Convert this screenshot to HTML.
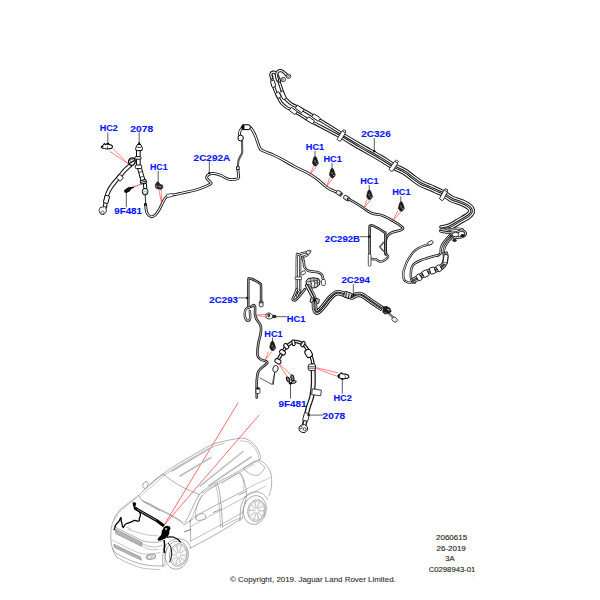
<!DOCTYPE html>
<html><head><meta charset="utf-8"><style>
html,body{margin:0;padding:0;background:#fff;overflow:hidden;width:600px;height:600px;}
svg{display:block;}
text{font-family:"Liberation Sans",sans-serif;}
</style></head><body>
<svg width="600" height="600" viewBox="0 0 600 600">
<rect width="600" height="600" fill="#fff"/>
<text x="99.70" y="131.40" textLength="18.20" lengthAdjust="spacingAndGlyphs" font-size="9.70" font-weight="bold" fill="#0a14ff" stroke="#0a14ff" stroke-width="0.12">HC2</text>
<path d="M107.80,132.80 L107.80,144.00" stroke="#333" stroke-width="0.80" fill="none" stroke-linejoin="round" stroke-linecap="round"/>
<path d="M101.2,147 L103.2,145 L104.4,143.6 L105.6,144.8 L107,143.6 L108.4,143.4 L109.4,144.6 L111.6,145.3 L112.6,146.6 L111.8,148.2 L108,149 L104,148.6 L101.8,147.9 Z" fill="#fff" stroke="#000" stroke-width="1.05"/>
<ellipse cx="102.3" cy="146.6" rx="1.2" ry="0.9" fill="#000"/>
<ellipse cx="107.9" cy="144.3" rx="0.9" ry="0.9" fill="#000"/>
<path d="M107.6,146.4 L107.4,148.8" stroke="#000" stroke-width="0.7"/>
<path d="M113.50,149.00 L128.50,164.00" stroke="#ff3030" stroke-width="0.60" fill="none" stroke-linejoin="round" stroke-linecap="round"/>
<path d="M110.00,151.50 L128.50,164.00" stroke="#ff3030" stroke-width="0.60" fill="none" stroke-linejoin="round" stroke-linecap="round"/>
<text x="130.30" y="131.50" textLength="22.80" lengthAdjust="spacingAndGlyphs" font-size="9.70" font-weight="bold" fill="#0a14ff" stroke="#0a14ff" stroke-width="0.12">2078</text>
<path d="M139.20,132.80 L139.20,143.00" stroke="#333" stroke-width="0.80" fill="none" stroke-linejoin="round" stroke-linecap="round"/>
<circle cx="139.20" cy="143.30" r="1.15" fill="#000"/>
<path d="M130.50,165.00 C129.50,165.92 126.25,168.67 124.50,170.50 C122.75,172.33 121.62,174.08 120.00,176.00 C118.38,177.92 116.38,180.03 114.80,182.00 C113.22,183.97 111.67,185.97 110.50,187.80 C109.33,189.63 108.50,191.30 107.80,193.00 C107.10,194.70 106.68,196.33 106.30,198.00 C105.92,199.67 105.72,201.50 105.50,203.00 C105.28,204.50 105.08,206.33 105.00,207.00" stroke="#1a1a1a" stroke-width="4.43" fill="none" stroke-linejoin="round" stroke-linecap="round"/>
<path d="M130.50,165.00 C129.50,165.92 126.25,168.67 124.50,170.50 C122.75,172.33 121.62,174.08 120.00,176.00 C118.38,177.92 116.38,180.03 114.80,182.00 C113.22,183.97 111.67,185.97 110.50,187.80 C109.33,189.63 108.50,191.30 107.80,193.00 C107.10,194.70 106.68,196.33 106.30,198.00 C105.92,199.67 105.72,201.50 105.50,203.00 C105.28,204.50 105.08,206.33 105.00,207.00" stroke="#fff" stroke-width="2.27" fill="none" stroke-linejoin="round" stroke-linecap="round"/>
<rect x="117.3" y="175.2" width="5.3" height="5" rx="1" transform="rotate(45 119.9 177.7)" fill="#fff" stroke="#000" stroke-width="0.9"/>
<rect x="104.2" y="195.6" width="4.6" height="7.6" rx="0.8" transform="rotate(15 106.5 199.4)" fill="#fff" stroke="#000" stroke-width="0.9"/>
<ellipse cx="131.9" cy="161.6" rx="3.3" ry="3.7" transform="rotate(20 131.9 161.6)" fill="#fff" stroke="#000" stroke-width="1.3"/>
<path d="M129.2,163.5 L134.8,160.5" stroke="#000" stroke-width="1.1"/>
<ellipse cx="131.6" cy="160.4" rx="1.6" ry="1.1" fill="#fff" stroke="#222" stroke-width="0.7"/>
<path d="M100,207.5 L105.5,206.5 L106.5,211 L104,214.5 L100.5,214 L99,210.5 Z" fill="#fff" stroke="#111" stroke-width="0.8"/>
<circle cx="102.5" cy="212.5" r="1.6" fill="#fff" stroke="#111" stroke-width="0.6"/>
<path d="M136.5,150 L140.2,150 L140.2,166 L136.5,166 Z" fill="#fff" stroke="#000" stroke-width="0.95"/>
<path d="M137.6,168.5 L141.4,167.6 L144.8,179.6 L141,180.8 Z" fill="#fff" stroke="#000" stroke-width="0.95"/>
<path d="M138.6,172.5 L142.6,171.4 M139.6,177.5 L143.6,176.4" stroke="#000" stroke-width="0.7"/>
<path d="M139,143.4 L141.2,145.2 L142.4,148.2 L142,150.6 L136,150.6 L135.7,148.2 L136.9,145.2 Z" fill="#fff" stroke="#000" stroke-width="0.95"/>
<path d="M137.2,147.3 L141,147.3" stroke="#000" stroke-width="0.8"/>
<path d="M138.2,143.5 L139.8,143.5 L140.6,145 L137.4,145 Z" fill="#000"/>
<rect x="134.8" y="156.6" width="6.3" height="2.6" rx="1" fill="#fff" stroke="#000" stroke-width="0.95"/>
<rect x="135.3" y="165.0" width="6.4" height="3.6" rx="1.2" fill="#fff" stroke="#000" stroke-width="0.95"/>
<path d="M140.2,180.8 L145.8,179.4 L146.6,182.6 L141,184.2 Z" fill="#fff" stroke="#000" stroke-width="1.0"/>
<path d="M140.6,182.5 L146.2,181" stroke="#000" stroke-width="0.8"/>
<path d="M143.4,184 L146.4,183.4 L146.8,188.4 L143.8,188.8 Z" fill="#fff" stroke="#000" stroke-width="0.95"/>
<ellipse cx="145.1" cy="191.7" rx="2.9" ry="3.3" fill="#fff" stroke="#000" stroke-width="0.95"/>
<ellipse cx="145.1" cy="192.5" rx="1.6" ry="1.6" fill="none" stroke="#555" stroke-width="0.5"/>
<path d="M145.20,195.00 L145.60,203.00" stroke="#111" stroke-width="0.90" fill="none" stroke-linejoin="round" stroke-linecap="round"/>
<path d="M144.4,203 L146.6,203 L147.2,206 L143.8,206 Z" fill="#111"/>
<text x="150.00" y="169.90" textLength="17.50" lengthAdjust="spacingAndGlyphs" font-size="9.70" font-weight="bold" fill="#0a14ff" stroke="#0a14ff" stroke-width="0.12">HC1</text>
<path d="M158.20,171.20 L158.20,182.50" stroke="#333" stroke-width="0.80" fill="none" stroke-linejoin="round" stroke-linecap="round"/>
<path d="M157.3,181.8 L158.8,182.5 L160.2,184.3 L162.6,185.3 L162.9,187.5 L161.3,189.4 L159,189 L156.6,188.6 L155.5,187.4 L155.3,185 L156.2,183.2 Z" fill="#2a2a2a" stroke="#000" stroke-width="0.55"/>
<path d="M158.6,186.2 L161.4,187.1" stroke="#999" stroke-width="1.1"/>
<path d="M156.3,185.6 L157,187.6" stroke="#ddd" stroke-width="0.6"/>
<path d="M158.70,189.00 L161.40,202.50" stroke="#ff3030" stroke-width="0.60" fill="none" stroke-linejoin="round" stroke-linecap="round"/>
<path d="M161.20,189.00 L161.60,202.50" stroke="#ff3030" stroke-width="0.60" fill="none" stroke-linejoin="round" stroke-linecap="round"/>
<text x="114.20" y="214.40" textLength="27.80" lengthAdjust="spacingAndGlyphs" font-size="9.70" font-weight="bold" fill="#0a14ff" stroke="#0a14ff" stroke-width="0.12">9F481</text>
<path d="M126.30,206.80 L126.30,192.00" stroke="#333" stroke-width="0.80" fill="none" stroke-linejoin="round" stroke-linecap="round"/>
<path d="M124,190.2 L128.3,187.3 L131,186.9 L133.8,186.4 L134.1,187.7 L131.2,188.9 L129.8,191.2 L126.6,193 L124.6,192.4 Z" fill="#000"/>
<path d="M126,190.8 L129.5,188.6" stroke="#555" stroke-width="0.5"/>
<path d="M133.8,185.9 L141.3,183.7 L141.5,184.5 L134.2,187.3 Z" fill="#ff5a5a"/>
<path d="M145.70,206.00 C145.78,206.67 145.90,208.67 146.20,210.00 C146.50,211.33 146.62,212.87 147.50,214.00 C148.38,215.13 150.17,216.67 151.50,216.80 C152.83,216.93 154.25,215.93 155.50,214.80 C156.75,213.67 157.92,211.80 159.00,210.00 C160.08,208.20 161.00,205.92 162.00,204.00 C163.00,202.08 163.92,199.87 165.00,198.50 C166.08,197.13 166.83,196.45 168.50,195.80 C170.17,195.15 172.42,195.13 175.00,194.60 C177.58,194.07 180.50,193.37 184.00,192.60 C187.50,191.83 192.25,191.10 196.00,190.00 C199.75,188.90 203.97,187.12 206.50,186.00 C209.03,184.88 210.70,184.08 211.20,183.30 C211.70,182.52 210.23,182.13 209.50,181.30 C208.77,180.47 207.13,179.27 206.80,178.30 C206.47,177.33 206.88,176.25 207.50,175.50 C208.12,174.75 209.33,174.12 210.50,173.80 C211.67,173.48 212.63,173.27 214.50,173.60 C216.37,173.93 219.40,174.87 221.70,175.80 C224.00,176.73 225.92,178.63 228.30,179.20 C230.68,179.77 234.28,179.47 236.00,179.20 C237.72,178.93 238.23,178.72 238.60,177.60 C238.97,176.48 238.33,174.05 238.20,172.50 C238.07,170.95 237.87,169.00 237.80,168.30" stroke="#1a1a1a" stroke-width="2.81" fill="none" stroke-linejoin="round" stroke-linecap="round"/>
<path d="M145.70,206.00 C145.78,206.67 145.90,208.67 146.20,210.00 C146.50,211.33 146.62,212.87 147.50,214.00 C148.38,215.13 150.17,216.67 151.50,216.80 C152.83,216.93 154.25,215.93 155.50,214.80 C156.75,213.67 157.92,211.80 159.00,210.00 C160.08,208.20 161.00,205.92 162.00,204.00 C163.00,202.08 163.92,199.87 165.00,198.50 C166.08,197.13 166.83,196.45 168.50,195.80 C170.17,195.15 172.42,195.13 175.00,194.60 C177.58,194.07 180.50,193.37 184.00,192.60 C187.50,191.83 192.25,191.10 196.00,190.00 C199.75,188.90 203.97,187.12 206.50,186.00 C209.03,184.88 210.70,184.08 211.20,183.30 C211.70,182.52 210.23,182.13 209.50,181.30 C208.77,180.47 207.13,179.27 206.80,178.30 C206.47,177.33 206.88,176.25 207.50,175.50 C208.12,174.75 209.33,174.12 210.50,173.80 C211.67,173.48 212.63,173.27 214.50,173.60 C216.37,173.93 219.40,174.87 221.70,175.80 C224.00,176.73 225.92,178.63 228.30,179.20 C230.68,179.77 234.28,179.47 236.00,179.20 C237.72,178.93 238.23,178.72 238.60,177.60 C238.97,176.48 238.33,174.05 238.20,172.50 C238.07,170.95 237.87,169.00 237.80,168.30" stroke="#fff" stroke-width="1.01" fill="none" stroke-linejoin="round" stroke-linecap="round"/>
<rect x="166.5" y="193.9" width="6.6" height="3.1" rx="0.8" transform="rotate(-10 169.8 195.4)" fill="#fff" stroke="#222" stroke-width="0.7"/>
<path d="M237.80,168.30 C237.90,167.08 237.95,163.05 238.40,161.00 C238.85,158.95 239.87,157.42 240.50,156.00 C241.13,154.58 241.93,154.17 242.20,152.50 C242.47,150.83 242.13,148.00 242.10,146.00 C242.07,144.00 242.02,141.42 242.00,140.50" stroke="#444" stroke-width="2.00" fill="none" stroke-linejoin="round" stroke-linecap="round"/>
<path d="M237.80,168.30 C237.90,167.08 237.95,163.05 238.40,161.00 C238.85,158.95 239.87,157.42 240.50,156.00 C241.13,154.58 241.93,154.17 242.20,152.50 C242.47,150.83 242.13,148.00 242.10,146.00 C242.07,144.00 242.02,141.42 242.00,140.50" stroke="#888" stroke-width="0.70" fill="none" stroke-linejoin="round" stroke-linecap="round"/>
<rect x="236.6" y="166.8" width="2.6" height="2.6" fill="#fff" stroke="#000" stroke-width="0.8"/>
<path d="M240.60,137.60 C240.40,136.88 239.25,134.80 239.40,133.30 C239.55,131.80 240.57,129.75 241.50,128.60 C242.43,127.45 243.87,126.77 245.00,126.40 C246.13,126.03 247.23,126.03 248.30,126.40 C249.37,126.77 250.28,127.17 251.40,128.60 C252.52,130.03 253.63,131.83 255.00,135.00 C256.37,138.17 258.35,145.02 259.60,147.60 C260.85,150.18 260.22,149.27 262.50,150.50 C264.78,151.73 270.38,153.70 273.30,155.00 C276.22,156.30 276.38,156.35 280.00,158.30 C283.62,160.25 290.00,164.05 295.00,166.70 C300.00,169.35 306.12,171.98 310.00,174.20 C313.88,176.42 315.80,178.07 318.30,180.00 C320.80,181.93 323.05,184.27 325.00,185.80 C326.95,187.33 328.17,188.20 330.00,189.20 C331.83,190.20 335.00,191.37 336.00,191.80" stroke="#1a1a1a" stroke-width="2.92" fill="none" stroke-linejoin="round" stroke-linecap="round"/>
<path d="M240.60,137.60 C240.40,136.88 239.25,134.80 239.40,133.30 C239.55,131.80 240.57,129.75 241.50,128.60 C242.43,127.45 243.87,126.77 245.00,126.40 C246.13,126.03 247.23,126.03 248.30,126.40 C249.37,126.77 250.28,127.17 251.40,128.60 C252.52,130.03 253.63,131.83 255.00,135.00 C256.37,138.17 258.35,145.02 259.60,147.60 C260.85,150.18 260.22,149.27 262.50,150.50 C264.78,151.73 270.38,153.70 273.30,155.00 C276.22,156.30 276.38,156.35 280.00,158.30 C283.62,160.25 290.00,164.05 295.00,166.70 C300.00,169.35 306.12,171.98 310.00,174.20 C313.88,176.42 315.80,178.07 318.30,180.00 C320.80,181.93 323.05,184.27 325.00,185.80 C326.95,187.33 328.17,188.20 330.00,189.20 C331.83,190.20 335.00,191.37 336.00,191.80" stroke="#fff" stroke-width="1.12" fill="none" stroke-linejoin="round" stroke-linecap="round"/>
<ellipse cx="240.6" cy="138" rx="2.7" ry="2.9" fill="#fff" stroke="#000" stroke-width="1.0"/>
<path d="M242.6,124.8 L249.2,124.8 L250.6,127 L249.2,129.6 L242.6,129.6 L241.4,127.2 Z" fill="#fff" stroke="#000" stroke-width="1.0"/>
<path d="M242.6,124.8 L244.4,124.8 L244.4,129.6 L242.6,129.6 L241.4,127.2 Z" fill="#000"/>
<g transform="rotate(30.0 339.30 193.30)"><rect x="336.10" y="191.30" width="6.40" height="4.00" rx="1.2" fill="#d0d0d0" stroke="#222" stroke-width="0.85"/><rect x="340.30" y="191.70" width="1.6" height="3.20" fill="#333"/><rect x="336.90" y="192.40" width="2.40" height="1.0" fill="#fff"/></g>
<g transform="rotate(32.0 346.60 198.10)"><rect x="343.40" y="196.10" width="6.40" height="4.00" rx="1.2" fill="#d0d0d0" stroke="#222" stroke-width="0.85"/><rect x="347.60" y="196.50" width="1.6" height="3.20" fill="#333"/><rect x="344.20" y="197.20" width="2.40" height="1.0" fill="#fff"/></g>
<path d="M348.50,199.00 C349.30,199.45 350.83,200.23 353.30,201.70 C355.77,203.17 360.23,205.87 363.30,207.80 C366.37,209.73 368.63,212.07 371.70,213.30 C374.77,214.53 378.65,214.22 381.70,215.20 C384.75,216.18 387.23,217.70 390.00,219.20 C392.77,220.70 396.17,222.77 398.30,224.20 C400.43,225.63 402.35,226.83 402.80,227.80 C403.25,228.77 402.80,229.20 401.00,230.00 C399.20,230.80 394.30,231.57 392.00,232.60 C389.70,233.63 388.27,234.72 387.20,236.20 C386.13,237.68 385.87,239.20 385.60,241.50 C385.33,243.80 385.48,247.83 385.60,250.00 C385.72,252.17 386.18,253.75 386.30,254.50" stroke="#1a1a1a" stroke-width="2.70" fill="none" stroke-linejoin="round" stroke-linecap="round"/>
<path d="M348.50,199.00 C349.30,199.45 350.83,200.23 353.30,201.70 C355.77,203.17 360.23,205.87 363.30,207.80 C366.37,209.73 368.63,212.07 371.70,213.30 C374.77,214.53 378.65,214.22 381.70,215.20 C384.75,216.18 387.23,217.70 390.00,219.20 C392.77,220.70 396.17,222.77 398.30,224.20 C400.43,225.63 402.35,226.83 402.80,227.80 C403.25,228.77 402.80,229.20 401.00,230.00 C399.20,230.80 394.30,231.57 392.00,232.60 C389.70,233.63 388.27,234.72 387.20,236.20 C386.13,237.68 385.87,239.20 385.60,241.50 C385.33,243.80 385.48,247.83 385.60,250.00 C385.72,252.17 386.18,253.75 386.30,254.50" stroke="#fff" stroke-width="0.90" fill="none" stroke-linejoin="round" stroke-linecap="round"/>
<text x="193.60" y="160.60" textLength="36.60" lengthAdjust="spacingAndGlyphs" font-size="9.70" font-weight="bold" fill="#0a14ff" stroke="#0a14ff" stroke-width="0.12">2C292A</text>
<path d="M209.30,161.50 L209.30,173.00" stroke="#333" stroke-width="0.80" fill="none" stroke-linejoin="round" stroke-linecap="round"/>
<circle cx="209.30" cy="173.20" r="1.15" fill="#000"/>
<text x="305.80" y="149.90" textLength="18.40" lengthAdjust="spacingAndGlyphs" font-size="9.70" font-weight="bold" fill="#0a14ff" stroke="#0a14ff" stroke-width="0.12">HC1</text>
<path d="M315.00,151.30 L315.00,157.50" stroke="#333" stroke-width="0.80" fill="none" stroke-linejoin="round" stroke-linecap="round"/>
<path d="M315.00,156.40 L316.30,157.20 L317.00,158.90 L317.70,160.90 L318.40,163.20 L317.60,164.60 L316.00,166.10 L314.00,165.70 L312.40,163.00 L312.80,160.90 L313.70,157.60 Z" fill="#1c1c1c" stroke="#000" stroke-width="0.5"/>
<ellipse cx="315.10" cy="161.40" rx="0.9" ry="1.3" fill="#666"/>
<path d="M316.10,163.80 L317.60,163.40" stroke="#e8e8e8" stroke-width="0.7"/>
<path d="M313.50,166.50 L310.00,174.30" stroke="#ff3030" stroke-width="0.60" fill="none" stroke-linejoin="round" stroke-linecap="round"/>
<path d="M316.70,166.50 L310.00,174.30" stroke="#ff3030" stroke-width="0.60" fill="none" stroke-linejoin="round" stroke-linecap="round"/>
<text x="323.40" y="161.80" textLength="18.40" lengthAdjust="spacingAndGlyphs" font-size="9.70" font-weight="bold" fill="#0a14ff" stroke="#0a14ff" stroke-width="0.12">HC1</text>
<path d="M332.00,163.30 L332.00,169.20" stroke="#333" stroke-width="0.80" fill="none" stroke-linejoin="round" stroke-linecap="round"/>
<path d="M332.00,168.20 L333.30,169.00 L334.00,170.70 L334.70,172.70 L335.40,175.00 L334.60,176.40 L333.00,177.90 L331.00,177.50 L329.40,174.80 L329.80,172.70 L330.70,169.40 Z" fill="#1c1c1c" stroke="#000" stroke-width="0.5"/>
<ellipse cx="332.10" cy="173.20" rx="0.9" ry="1.3" fill="#666"/>
<path d="M333.10,175.60 L334.60,175.20" stroke="#e8e8e8" stroke-width="0.7"/>
<path d="M329.50,178.30 L326.50,186.50" stroke="#ff3030" stroke-width="0.60" fill="none" stroke-linejoin="round" stroke-linecap="round"/>
<path d="M332.70,178.30 L326.50,186.50" stroke="#ff3030" stroke-width="0.60" fill="none" stroke-linejoin="round" stroke-linecap="round"/>
<path d="M271.60,76.00 C271.80,77.28 272.32,81.53 272.80,83.70 C273.28,85.87 273.85,87.28 274.50,89.00 C275.15,90.72 275.95,92.37 276.70,94.00 C277.45,95.63 278.15,97.25 279.00,98.80 C279.85,100.35 280.52,101.85 281.80,103.30 C283.08,104.75 284.78,106.25 286.70,107.50 C288.62,108.75 290.80,109.42 293.30,110.80 C295.80,112.18 298.92,114.13 301.70,115.80 C304.48,117.47 303.77,117.40 310.00,120.80 C316.23,124.20 330.87,131.64 339.05,136.19 C347.23,140.74 352.41,144.23 359.07,148.10 C365.74,151.97 373.50,156.10 379.05,159.39 C384.60,162.67 388.23,165.45 392.39,167.81 C396.56,170.18 400.72,171.57 404.03,173.57 C407.33,175.57 409.42,177.79 412.22,179.80 C415.02,181.81 417.99,184.10 420.83,185.63 C423.67,187.17 426.86,187.95 429.26,188.99 C431.65,190.03 432.91,190.81 435.22,191.88 C437.53,192.95 440.49,193.95 443.10,195.42 C445.71,196.88 448.00,199.22 450.87,200.65 C453.73,202.08 457.68,202.94 460.28,204.00 C462.88,205.07 464.93,206.08 466.45,207.02 C467.96,207.96 468.82,208.92 469.36,209.66 C469.91,210.41 470.09,210.71 469.72,211.50 C469.34,212.29 469.01,213.04 467.10,214.39 C465.20,215.74 461.30,217.84 458.27,219.60 C455.24,221.37 451.84,223.76 448.92,224.98 C446.01,226.19 442.14,226.58 440.78,226.90" stroke="#1a1a1a" stroke-width="3.24" fill="none" stroke-linejoin="round" stroke-linecap="round"/>
<path d="M271.60,76.00 C271.80,77.28 272.32,81.53 272.80,83.70 C273.28,85.87 273.85,87.28 274.50,89.00 C275.15,90.72 275.95,92.37 276.70,94.00 C277.45,95.63 278.15,97.25 279.00,98.80 C279.85,100.35 280.52,101.85 281.80,103.30 C283.08,104.75 284.78,106.25 286.70,107.50 C288.62,108.75 290.80,109.42 293.30,110.80 C295.80,112.18 298.92,114.13 301.70,115.80 C304.48,117.47 303.77,117.40 310.00,120.80 C316.23,124.20 330.87,131.64 339.05,136.19 C347.23,140.74 352.41,144.23 359.07,148.10 C365.74,151.97 373.50,156.10 379.05,159.39 C384.60,162.67 388.23,165.45 392.39,167.81 C396.56,170.18 400.72,171.57 404.03,173.57 C407.33,175.57 409.42,177.79 412.22,179.80 C415.02,181.81 417.99,184.10 420.83,185.63 C423.67,187.17 426.86,187.95 429.26,188.99 C431.65,190.03 432.91,190.81 435.22,191.88 C437.53,192.95 440.49,193.95 443.10,195.42 C445.71,196.88 448.00,199.22 450.87,200.65 C453.73,202.08 457.68,202.94 460.28,204.00 C462.88,205.07 464.93,206.08 466.45,207.02 C467.96,207.96 468.82,208.92 469.36,209.66 C469.91,210.41 470.09,210.71 469.72,211.50 C469.34,212.29 469.01,213.04 467.10,214.39 C465.20,215.74 461.30,217.84 458.27,219.60 C455.24,221.37 451.84,223.76 448.92,224.98 C446.01,226.19 442.14,226.58 440.78,226.90" stroke="#fff" stroke-width="1.14" fill="none" stroke-linejoin="round" stroke-linecap="round"/>
<path d="M278.70,80.30 C279.00,81.25 279.87,84.10 280.50,86.00 C281.13,87.90 281.88,89.92 282.50,91.70 C283.12,93.48 283.50,95.32 284.20,96.70 C284.90,98.08 285.45,98.75 286.70,100.00 C287.95,101.25 289.62,102.88 291.70,104.20 C293.78,105.52 296.57,106.52 299.20,107.90 C301.83,109.28 300.54,108.31 307.50,112.50 C314.46,116.69 332.04,127.61 340.95,133.01 C349.85,138.41 354.26,141.03 360.93,144.90 C367.59,148.77 375.40,152.93 380.95,156.21 C386.50,159.49 390.04,162.22 394.21,164.59 C398.38,166.96 402.61,168.39 405.97,170.43 C409.34,172.46 411.61,174.81 414.38,176.80 C417.14,178.79 419.84,180.90 422.57,182.37 C425.29,183.83 428.38,184.58 430.74,185.61 C433.11,186.63 434.42,187.43 436.78,188.52 C439.14,189.62 442.28,190.71 444.90,192.18 C447.53,193.65 449.73,195.95 452.53,197.35 C455.34,198.75 459.05,199.49 461.72,200.60 C464.39,201.70 466.74,202.76 468.55,203.98 C470.37,205.20 471.85,206.52 472.64,207.94 C473.42,209.36 473.81,210.95 473.28,212.50 C472.76,214.04 471.69,215.49 469.50,217.21 C467.30,218.93 463.33,220.93 460.13,222.80 C456.93,224.67 453.26,227.17 450.28,228.42 C447.29,229.67 443.74,230.01 442.22,230.30 C440.70,230.60 441.21,230.24 441.14,230.17 C441.07,230.11 440.45,229.80 441.81,229.94 C443.16,230.07 448.03,230.80 449.27,230.97" stroke="#1a1a1a" stroke-width="3.24" fill="none" stroke-linejoin="round" stroke-linecap="round"/>
<path d="M278.70,80.30 C279.00,81.25 279.87,84.10 280.50,86.00 C281.13,87.90 281.88,89.92 282.50,91.70 C283.12,93.48 283.50,95.32 284.20,96.70 C284.90,98.08 285.45,98.75 286.70,100.00 C287.95,101.25 289.62,102.88 291.70,104.20 C293.78,105.52 296.57,106.52 299.20,107.90 C301.83,109.28 300.54,108.31 307.50,112.50 C314.46,116.69 332.04,127.61 340.95,133.01 C349.85,138.41 354.26,141.03 360.93,144.90 C367.59,148.77 375.40,152.93 380.95,156.21 C386.50,159.49 390.04,162.22 394.21,164.59 C398.38,166.96 402.61,168.39 405.97,170.43 C409.34,172.46 411.61,174.81 414.38,176.80 C417.14,178.79 419.84,180.90 422.57,182.37 C425.29,183.83 428.38,184.58 430.74,185.61 C433.11,186.63 434.42,187.43 436.78,188.52 C439.14,189.62 442.28,190.71 444.90,192.18 C447.53,193.65 449.73,195.95 452.53,197.35 C455.34,198.75 459.05,199.49 461.72,200.60 C464.39,201.70 466.74,202.76 468.55,203.98 C470.37,205.20 471.85,206.52 472.64,207.94 C473.42,209.36 473.81,210.95 473.28,212.50 C472.76,214.04 471.69,215.49 469.50,217.21 C467.30,218.93 463.33,220.93 460.13,222.80 C456.93,224.67 453.26,227.17 450.28,228.42 C447.29,229.67 443.74,230.01 442.22,230.30 C440.70,230.60 441.21,230.24 441.14,230.17 C441.07,230.11 440.45,229.80 441.81,229.94 C443.16,230.07 448.03,230.80 449.27,230.97" stroke="#fff" stroke-width="1.14" fill="none" stroke-linejoin="round" stroke-linecap="round"/>
<path d="M271.60,78.00 C271.47,77.33 270.57,74.97 270.80,74.00 C271.03,73.03 272.22,72.37 273.00,72.20 C273.78,72.03 274.63,72.12 275.50,73.00 C276.37,73.88 277.53,76.17 278.20,77.50 C278.87,78.83 279.28,80.42 279.50,81.00" stroke="#1a1a1a" stroke-width="3.24" fill="none" stroke-linejoin="round" stroke-linecap="round"/>
<path d="M271.60,78.00 C271.47,77.33 270.57,74.97 270.80,74.00 C271.03,73.03 272.22,72.37 273.00,72.20 C273.78,72.03 274.63,72.12 275.50,73.00 C276.37,73.88 277.53,76.17 278.20,77.50 C278.87,78.83 279.28,80.42 279.50,81.00" stroke="#fff" stroke-width="1.14" fill="none" stroke-linejoin="round" stroke-linecap="round"/>
<path d="M277.60,80.00 C277.42,79.25 276.43,76.93 276.50,75.50 C276.57,74.07 277.17,72.18 278.00,71.40 C278.83,70.62 280.33,70.48 281.50,70.80 C282.67,71.12 283.92,72.35 285.00,73.30 C286.08,74.25 287.50,75.97 288.00,76.50" stroke="#1a1a1a" stroke-width="3.24" fill="none" stroke-linejoin="round" stroke-linecap="round"/>
<path d="M277.60,80.00 C277.42,79.25 276.43,76.93 276.50,75.50 C276.57,74.07 277.17,72.18 278.00,71.40 C278.83,70.62 280.33,70.48 281.50,70.80 C282.67,71.12 283.92,72.35 285.00,73.30 C286.08,74.25 287.50,75.97 288.00,76.50" stroke="#fff" stroke-width="1.14" fill="none" stroke-linejoin="round" stroke-linecap="round"/>
<ellipse cx="283.2" cy="79.5" rx="2.4" ry="2.1" fill="#fff" stroke="#111" stroke-width="0.8"/>
<ellipse cx="288.5" cy="76.3" rx="2.3" ry="2.0" fill="#fff" stroke="#111" stroke-width="0.8"/>
<ellipse cx="282.8" cy="79.5" rx="1" ry="0.8" fill="#fff" stroke="#111" stroke-width="0.5"/>
<ellipse cx="288.5" cy="76.3" rx="1" ry="0.8" fill="#fff" stroke="#111" stroke-width="0.5"/>
<rect x="275.41" y="93.15" width="5.68" height="3.90" rx="0.8" transform="rotate(61.6 278.25 95.10)" fill="#fff" stroke="#111" stroke-width="0.85"/>
<rect x="278.84" y="93.30" width="8.32" height="3.90" rx="0.8" transform="rotate(64.4 283.00 95.25)" fill="#fff" stroke="#111" stroke-width="0.85"/>
<rect x="289.57" y="109.05" width="7.36" height="3.90" rx="0.8" transform="rotate(36.7 293.25 111.00)" fill="#fff" stroke="#111" stroke-width="0.85"/>
<rect x="295.54" y="107.00" width="8.02" height="3.90" rx="0.8" transform="rotate(35.9 299.55 108.95)" fill="#fff" stroke="#111" stroke-width="0.85"/>
<rect x="306.63" y="118.45" width="7.55" height="3.90" rx="0.8" transform="rotate(32.0 310.40 120.40)" fill="#fff" stroke="#111" stroke-width="0.85"/>
<rect x="312.11" y="115.60" width="8.07" height="3.90" rx="0.8" transform="rotate(33.9 316.15 117.55)" fill="#fff" stroke="#111" stroke-width="0.85"/>
<rect x="269.79" y="81.80" width="6.72" height="3.90" rx="0.8" transform="rotate(75.3 273.15 83.75)" fill="#fff" stroke="#111" stroke-width="0.85"/>
<rect x="339.30" y="130.70" width="4.00" height="10.60" rx="1" transform="rotate(31.0 341.30 136.00)" fill="#fff" stroke="#111" stroke-width="0.8"/>
<rect x="340.00" y="129.20" width="2.60" height="2.00" transform="rotate(31.0 341.30 136.00)" fill="#fff" stroke="#111" stroke-width="0.7"/>
<rect x="391.50" y="161.00" width="4.00" height="10.60" rx="1" transform="rotate(34.0 393.50 166.30)" fill="#fff" stroke="#111" stroke-width="0.8"/>
<rect x="392.20" y="159.50" width="2.60" height="2.00" transform="rotate(34.0 393.50 166.30)" fill="#fff" stroke="#111" stroke-width="0.7"/>
<rect x="441.50" y="189.90" width="4.00" height="10.60" rx="1" transform="rotate(28.0 443.50 195.20)" fill="#fff" stroke="#111" stroke-width="0.8"/>
<rect x="442.20" y="188.40" width="2.60" height="2.00" transform="rotate(28.0 443.50 195.20)" fill="#fff" stroke="#111" stroke-width="0.7"/>
<text x="361.30" y="137.00" textLength="29.40" lengthAdjust="spacingAndGlyphs" font-size="9.70" font-weight="bold" fill="#0a14ff" stroke="#0a14ff" stroke-width="0.12">2C326</text>
<path d="M374.30,138.50 L374.30,151.00" stroke="#333" stroke-width="0.80" fill="none" stroke-linejoin="round" stroke-linecap="round"/>
<circle cx="374.30" cy="151.20" r="1.15" fill="#000"/>
<text x="360.20" y="184.10" textLength="18.30" lengthAdjust="spacingAndGlyphs" font-size="9.70" font-weight="bold" fill="#0a14ff" stroke="#0a14ff" stroke-width="0.12">HC1</text>
<path d="M369.20,185.50 L369.20,190.50" stroke="#333" stroke-width="0.80" fill="none" stroke-linejoin="round" stroke-linecap="round"/>
<path d="M369.20,189.90 L370.50,190.70 L371.20,192.40 L371.90,194.40 L372.60,196.70 L371.80,198.10 L370.20,199.60 L368.20,199.20 L366.60,196.50 L367.00,194.40 L367.90,191.10 Z" fill="#1c1c1c" stroke="#000" stroke-width="0.5"/>
<ellipse cx="369.30" cy="194.90" rx="0.9" ry="1.3" fill="#666"/>
<path d="M370.30,197.30 L371.80,196.90" stroke="#e8e8e8" stroke-width="0.7"/>
<path d="M366.80,199.80 L364.20,207.80" stroke="#ff3030" stroke-width="0.60" fill="none" stroke-linejoin="round" stroke-linecap="round"/>
<path d="M370.60,199.80 L364.20,207.80" stroke="#ff3030" stroke-width="0.60" fill="none" stroke-linejoin="round" stroke-linecap="round"/>
<text x="392.20" y="195.20" textLength="18.40" lengthAdjust="spacingAndGlyphs" font-size="9.70" font-weight="bold" fill="#0a14ff" stroke="#0a14ff" stroke-width="0.12">HC1</text>
<path d="M400.80,196.70 L400.80,202.40" stroke="#333" stroke-width="0.80" fill="none" stroke-linejoin="round" stroke-linecap="round"/>
<path d="M401.00,201.60 L402.30,202.40 L403.00,204.10 L403.70,206.10 L404.40,208.40 L403.60,209.80 L402.00,211.30 L400.00,210.90 L398.40,208.20 L398.80,206.10 L399.70,202.80 Z" fill="#1c1c1c" stroke="#000" stroke-width="0.5"/>
<ellipse cx="401.10" cy="206.60" rx="0.9" ry="1.3" fill="#666"/>
<path d="M402.10,209.00 L403.60,208.60" stroke="#e8e8e8" stroke-width="0.7"/>
<path d="M397.60,211.30 L393.20,220.40" stroke="#ff3030" stroke-width="0.60" fill="none" stroke-linejoin="round" stroke-linecap="round"/>
<path d="M401.40,211.30 L393.20,220.40" stroke="#ff3030" stroke-width="0.60" fill="none" stroke-linejoin="round" stroke-linecap="round"/>
<path d="M369.60,254.00 C369.60,249.75 369.45,233.17 369.60,228.50 C369.75,223.83 369.93,226.48 370.50,226.00 C371.07,225.52 370.75,224.60 373.00,225.60 C375.25,226.60 381.95,230.47 384.00,232.00 C386.05,233.53 385.07,231.13 385.30,234.80 C385.53,238.47 385.38,250.80 385.40,254.00" stroke="#1a1a1a" stroke-width="2.59" fill="none" stroke-linejoin="round" stroke-linecap="round"/>
<path d="M369.60,254.00 C369.60,249.75 369.45,233.17 369.60,228.50 C369.75,223.83 369.93,226.48 370.50,226.00 C371.07,225.52 370.75,224.60 373.00,225.60 C375.25,226.60 381.95,230.47 384.00,232.00 C386.05,233.53 385.07,231.13 385.30,234.80 C385.53,238.47 385.38,250.80 385.40,254.00" stroke="#a8a8a8" stroke-width="0.94" fill="none" stroke-linejoin="round" stroke-linecap="round"/>
<path d="M386.30,254.50 C386.62,254.83 388.25,255.72 388.20,256.50 C388.15,257.28 387.28,258.35 386.00,259.20 C384.72,260.05 382.17,261.57 380.50,261.60 C378.83,261.63 377.53,259.83 376.00,259.40 C374.47,258.97 372.08,259.07 371.30,259.00" stroke="#1a1a1a" stroke-width="2.38" fill="none" stroke-linejoin="round" stroke-linecap="round"/>
<path d="M386.30,254.50 C386.62,254.83 388.25,255.72 388.20,256.50 C388.15,257.28 387.28,258.35 386.00,259.20 C384.72,260.05 382.17,261.57 380.50,261.60 C378.83,261.63 377.53,259.83 376.00,259.40 C374.47,258.97 372.08,259.07 371.30,259.00" stroke="#fff" stroke-width="0.88" fill="none" stroke-linejoin="round" stroke-linecap="round"/>
<rect x="368.3" y="254" width="2.7" height="12.2" rx="1.3" fill="#fff" stroke="#111" stroke-width="0.7"/>
<path d="M383.8,242 L379.8,246.8 L383.8,251.5" fill="none" stroke="#111" stroke-width="1.3"/>
<path d="M383.8,242 L379.8,246.8 L383.8,251.5" fill="none" stroke="#fff" stroke-width="0.4"/>
<text x="324.80" y="241.60" textLength="35.20" lengthAdjust="spacingAndGlyphs" font-size="9.70" font-weight="bold" fill="#0a14ff" stroke="#0a14ff" stroke-width="0.12">2C292B</text>
<path d="M360.20,236.70 L369.20,236.70" stroke="#333" stroke-width="0.80" fill="none" stroke-linejoin="round" stroke-linecap="round"/>
<circle cx="369.40" cy="236.70" r="1.10" fill="#000"/>
<path d="M440.50,231.30 C441.92,231.55 446.42,232.60 449.00,232.80 C451.58,233.00 454.00,232.88 456.00,232.50 C458.00,232.12 459.58,230.67 461.00,230.50 C462.42,230.33 463.75,230.83 464.50,231.50 C465.25,232.17 465.92,233.58 465.50,234.50 C465.08,235.42 463.75,236.50 462.00,237.00 C460.25,237.50 456.83,237.67 455.00,237.50 C453.17,237.33 451.67,236.25 451.00,236.00" stroke="#1a1a1a" stroke-width="2.59" fill="none" stroke-linejoin="round" stroke-linecap="round"/>
<path d="M440.50,231.30 C441.92,231.55 446.42,232.60 449.00,232.80 C451.58,233.00 454.00,232.88 456.00,232.50 C458.00,232.12 459.58,230.67 461.00,230.50 C462.42,230.33 463.75,230.83 464.50,231.50 C465.25,232.17 465.92,233.58 465.50,234.50 C465.08,235.42 463.75,236.50 462.00,237.00 C460.25,237.50 456.83,237.67 455.00,237.50 C453.17,237.33 451.67,236.25 451.00,236.00" stroke="#fff" stroke-width="0.89" fill="none" stroke-linejoin="round" stroke-linecap="round"/>
<path d="M446.00,229.00 C447.00,229.03 450.00,229.27 452.00,229.20 C454.00,229.13 456.25,228.58 458.00,228.60 C459.75,228.62 461.75,229.18 462.50,229.30" stroke="#1a1a1a" stroke-width="2.38" fill="none" stroke-linejoin="round" stroke-linecap="round"/>
<path d="M446.00,229.00 C447.00,229.03 450.00,229.27 452.00,229.20 C454.00,229.13 456.25,228.58 458.00,228.60 C459.75,228.62 461.75,229.18 462.50,229.30" stroke="#fff" stroke-width="0.88" fill="none" stroke-linejoin="round" stroke-linecap="round"/>
<ellipse cx="455.5" cy="234.6" rx="3.3" ry="2.2" fill="#fff" stroke="#111" stroke-width="0.8"/>
<ellipse cx="462.5" cy="235.6" rx="2" ry="1.6" fill="#111"/>
<ellipse cx="454.5" cy="240.3" rx="2.2" ry="1.6" fill="#222"/>
<path d="M450.00,235.00 C449.33,235.75 447.17,238.08 446.00,239.50 C444.83,240.92 443.83,242.08 443.00,243.50 C442.17,244.92 441.42,246.37 441.00,248.00 C440.58,249.63 440.95,252.10 440.50,253.30 C440.05,254.50 438.67,254.88 438.30,255.20" stroke="#1a1a1a" stroke-width="2.48" fill="none" stroke-linejoin="round" stroke-linecap="round"/>
<path d="M450.00,235.00 C449.33,235.75 447.17,238.08 446.00,239.50 C444.83,240.92 443.83,242.08 443.00,243.50 C442.17,244.92 441.42,246.37 441.00,248.00 C440.58,249.63 440.95,252.10 440.50,253.30 C440.05,254.50 438.67,254.88 438.30,255.20" stroke="#fff" stroke-width="0.88" fill="none" stroke-linejoin="round" stroke-linecap="round"/>
<path d="M452.50,236.80 C451.83,237.50 449.67,239.55 448.50,241.00 C447.33,242.45 446.25,244.00 445.50,245.50 C444.75,247.00 444.28,248.50 444.00,250.00 C443.72,251.50 443.83,253.75 443.80,254.50" stroke="#1a1a1a" stroke-width="2.48" fill="none" stroke-linejoin="round" stroke-linecap="round"/>
<path d="M452.50,236.80 C451.83,237.50 449.67,239.55 448.50,241.00 C447.33,242.45 446.25,244.00 445.50,245.50 C444.75,247.00 444.28,248.50 444.00,250.00 C443.72,251.50 443.83,253.75 443.80,254.50" stroke="#fff" stroke-width="0.88" fill="none" stroke-linejoin="round" stroke-linecap="round"/>
<path d="M431.00,243.60 C430.55,243.73 429.63,244.00 428.30,244.40 C426.97,244.80 424.67,245.35 423.00,246.00 C421.33,246.65 419.88,247.30 418.30,248.30 C416.72,249.30 414.88,250.60 413.50,252.00 C412.12,253.40 411.08,255.12 410.00,256.70 C408.92,258.28 407.83,259.83 407.00,261.50 C406.17,263.17 405.57,265.12 405.00,266.70 C404.43,268.28 403.88,269.62 403.60,271.00 C403.32,272.38 403.27,273.67 403.30,275.00 C403.33,276.33 403.43,277.95 403.80,279.00 C404.17,280.05 404.60,280.70 405.50,281.30 C406.40,281.90 407.95,282.42 409.20,282.60 C410.45,282.78 412.37,282.43 413.00,282.40" stroke="#1a1a1a" stroke-width="2.27" fill="none" stroke-linejoin="round" stroke-linecap="round"/>
<path d="M431.00,243.60 C430.55,243.73 429.63,244.00 428.30,244.40 C426.97,244.80 424.67,245.35 423.00,246.00 C421.33,246.65 419.88,247.30 418.30,248.30 C416.72,249.30 414.88,250.60 413.50,252.00 C412.12,253.40 411.08,255.12 410.00,256.70 C408.92,258.28 407.83,259.83 407.00,261.50 C406.17,263.17 405.57,265.12 405.00,266.70 C404.43,268.28 403.88,269.62 403.60,271.00 C403.32,272.38 403.27,273.67 403.30,275.00 C403.33,276.33 403.43,277.95 403.80,279.00 C404.17,280.05 404.60,280.70 405.50,281.30 C406.40,281.90 407.95,282.42 409.20,282.60 C410.45,282.78 412.37,282.43 413.00,282.40" stroke="#fff" stroke-width="0.87" fill="none" stroke-linejoin="round" stroke-linecap="round"/>
<rect x="427.6" y="241.3" width="5.6" height="3.2" rx="1.3" transform="rotate(-28 430.4 242.9)" fill="#fff" stroke="#111" stroke-width="0.8"/>
<path d="M438.30,255.20 C437.33,255.42 434.43,255.98 432.50,256.50 C430.57,257.02 428.70,257.63 426.70,258.30 C424.70,258.97 422.45,259.67 420.50,260.50 C418.55,261.33 416.38,262.30 415.00,263.30 C413.62,264.30 412.83,265.38 412.20,266.50 C411.57,267.62 411.43,268.58 411.20,270.00 C410.97,271.42 410.80,273.50 410.80,275.00 C410.80,276.50 410.92,277.92 411.20,279.00 C411.48,280.08 411.87,280.92 412.50,281.50 C413.13,282.08 414.58,282.33 415.00,282.50" stroke="#1a1a1a" stroke-width="2.48" fill="none" stroke-linejoin="round" stroke-linecap="round"/>
<path d="M438.30,255.20 C437.33,255.42 434.43,255.98 432.50,256.50 C430.57,257.02 428.70,257.63 426.70,258.30 C424.70,258.97 422.45,259.67 420.50,260.50 C418.55,261.33 416.38,262.30 415.00,263.30 C413.62,264.30 412.83,265.38 412.20,266.50 C411.57,267.62 411.43,268.58 411.20,270.00 C410.97,271.42 410.80,273.50 410.80,275.00 C410.80,276.50 410.92,277.92 411.20,279.00 C411.48,280.08 411.87,280.92 412.50,281.50 C413.13,282.08 414.58,282.33 415.00,282.50" stroke="#fff" stroke-width="0.88" fill="none" stroke-linejoin="round" stroke-linecap="round"/>
<path d="M413.91,281.62 C414.54,281.33 416.56,280.50 417.71,279.87 C418.85,279.23 419.45,278.66 420.78,277.83 C422.11,276.99 424.07,275.75 425.69,274.88 C427.31,274.00 428.86,273.15 430.49,272.57 C432.11,271.98 433.73,271.94 435.44,271.38 C437.15,270.83 439.21,270.16 440.75,269.24 C442.29,268.32 443.67,267.18 444.66,265.87 C445.65,264.55 446.31,263.00 446.71,261.35 C447.11,259.70 447.04,257.39 447.05,255.97 C447.06,254.56 446.79,253.37 446.74,252.86" stroke="#1a1a1a" stroke-width="2.70" fill="none" stroke-linejoin="round" stroke-linecap="round"/>
<path d="M413.91,281.62 C414.54,281.33 416.56,280.50 417.71,279.87 C418.85,279.23 419.45,278.66 420.78,277.83 C422.11,276.99 424.07,275.75 425.69,274.88 C427.31,274.00 428.86,273.15 430.49,272.57 C432.11,271.98 433.73,271.94 435.44,271.38 C437.15,270.83 439.21,270.16 440.75,269.24 C442.29,268.32 443.67,267.18 444.66,265.87 C445.65,264.55 446.31,263.00 446.71,261.35 C447.11,259.70 447.04,257.39 447.05,255.97 C447.06,254.56 446.79,253.37 446.74,252.86" stroke="#fff" stroke-width="0.90" fill="none" stroke-linejoin="round" stroke-linecap="round"/>
<path d="M412.69,278.98 C413.29,278.71 415.20,277.94 416.29,277.33 C417.38,276.73 417.89,276.21 419.22,275.37 C420.56,274.54 422.60,273.25 424.31,272.32 C426.03,271.40 427.81,270.45 429.51,269.83 C431.22,269.22 432.94,269.13 434.56,268.62 C436.18,268.11 437.95,267.51 439.25,266.76 C440.55,266.01 441.57,265.15 442.34,264.13 C443.11,263.11 443.59,262.00 443.89,260.65 C444.19,259.30 444.16,257.28 444.15,256.03 C444.14,254.78 443.91,253.63 443.86,253.14" stroke="#1a1a1a" stroke-width="2.70" fill="none" stroke-linejoin="round" stroke-linecap="round"/>
<path d="M412.69,278.98 C413.29,278.71 415.20,277.94 416.29,277.33 C417.38,276.73 417.89,276.21 419.22,275.37 C420.56,274.54 422.60,273.25 424.31,272.32 C426.03,271.40 427.81,270.45 429.51,269.83 C431.22,269.22 432.94,269.13 434.56,268.62 C436.18,268.11 437.95,267.51 439.25,266.76 C440.55,266.01 441.57,265.15 442.34,264.13 C443.11,263.11 443.59,262.00 443.89,260.65 C444.19,259.30 444.16,257.28 444.15,256.03 C444.14,254.78 443.91,253.63 443.86,253.14" stroke="#fff" stroke-width="0.90" fill="none" stroke-linejoin="round" stroke-linecap="round"/>
<rect x="417.00" y="274.30" width="4.00" height="6.40" rx="1" transform="rotate(-32.0 419.00 277.50)" fill="#fff" stroke="#111" stroke-width="0.85"/>
<rect x="422.75" y="270.40" width="5.50" height="6.40" rx="1" transform="rotate(-28.0 425.50 273.60)" fill="#fff" stroke="#111" stroke-width="0.85"/>
<rect x="430.00" y="267.40" width="5.00" height="6.40" rx="1" transform="rotate(-18.0 432.50 270.60)" fill="#fff" stroke="#111" stroke-width="0.85"/>
<rect x="437.00" y="265.00" width="4.00" height="6.40" rx="1" transform="rotate(-30.0 439.00 268.20)" fill="#fff" stroke="#111" stroke-width="0.85"/>
<rect x="443.4" y="254.6" width="4.2" height="10.2" rx="1.4" transform="rotate(8 445.5 259.7)" fill="#fff" stroke="#111" stroke-width="0.9"/>
<path d="M443.8,262.5 L447.6,263" stroke="#111" stroke-width="0.7"/>
<path d="M296.80,296.00 C296.80,289.58 296.60,264.37 296.80,257.50 C297.00,250.63 297.30,255.45 298.00,254.80 C298.70,254.15 299.67,253.98 301.00,253.60 C302.33,253.22 305.17,252.68 306.00,252.50" stroke="#1a1a1a" stroke-width="2.27" fill="none" stroke-linejoin="round" stroke-linecap="round"/>
<path d="M296.80,296.00 C296.80,289.58 296.60,264.37 296.80,257.50 C297.00,250.63 297.30,255.45 298.00,254.80 C298.70,254.15 299.67,253.98 301.00,253.60 C302.33,253.22 305.17,252.68 306.00,252.50" stroke="#fff" stroke-width="0.87" fill="none" stroke-linejoin="round" stroke-linecap="round"/>
<path d="M300.20,292.00 C300.20,286.58 300.03,265.23 300.20,259.50 C300.37,253.77 300.57,258.08 301.20,257.60 C301.83,257.12 302.95,257.00 304.00,256.60 C305.05,256.20 306.92,255.43 307.50,255.20" stroke="#1a1a1a" stroke-width="2.27" fill="none" stroke-linejoin="round" stroke-linecap="round"/>
<path d="M300.20,292.00 C300.20,286.58 300.03,265.23 300.20,259.50 C300.37,253.77 300.57,258.08 301.20,257.60 C301.83,257.12 302.95,257.00 304.00,256.60 C305.05,256.20 306.92,255.43 307.50,255.20" stroke="#fff" stroke-width="0.87" fill="none" stroke-linejoin="round" stroke-linecap="round"/>
<ellipse cx="308.3" cy="252.3" rx="2.2" ry="1.8" fill="#fff" stroke="#111" stroke-width="0.8"/>
<ellipse cx="310" cy="251" rx="1.2" ry="1.0" fill="#fff" stroke="#111" stroke-width="0.6"/>
<path d="M297.00,289.00 C296.58,290.00 295.23,293.25 294.50,295.00 C293.77,296.75 292.43,298.67 292.60,299.50 C292.77,300.33 294.27,300.67 295.50,300.00 C296.73,299.33 298.67,297.00 300.00,295.50 C301.33,294.00 302.67,292.08 303.50,291.00 C304.33,289.92 304.75,289.33 305.00,289.00" stroke="#1a1a1a" stroke-width="2.59" fill="none" stroke-linejoin="round" stroke-linecap="round"/>
<path d="M297.00,289.00 C296.58,290.00 295.23,293.25 294.50,295.00 C293.77,296.75 292.43,298.67 292.60,299.50 C292.77,300.33 294.27,300.67 295.50,300.00 C296.73,299.33 298.67,297.00 300.00,295.50 C301.33,294.00 302.67,292.08 303.50,291.00 C304.33,289.92 304.75,289.33 305.00,289.00" stroke="#fff" stroke-width="0.89" fill="none" stroke-linejoin="round" stroke-linecap="round"/>
<path d="M299.80,291.00 L297.00,296.50" stroke="#1a1a1a" stroke-width="2.16" fill="none" stroke-linejoin="round" stroke-linecap="round"/>
<path d="M299.80,291.00 L297.00,296.50" stroke="#fff" stroke-width="0.86" fill="none" stroke-linejoin="round" stroke-linecap="round"/>
<rect x="295" y="277" width="6.6" height="2.6" rx="0.8" fill="#fff" stroke="#111" stroke-width="0.7"/>
<rect x="301" y="271.5" width="4.5" height="3" rx="0.8" transform="rotate(-30 303 273)" fill="#fff" stroke="#111" stroke-width="0.7"/>
<path d="M302.50,257.00 C302.72,257.83 303.47,260.33 303.80,262.00 C304.13,263.67 303.75,265.53 304.50,267.00 C305.25,268.47 305.97,269.90 308.30,270.80 C310.63,271.70 316.22,271.70 318.50,272.40 C320.78,273.10 321.20,273.73 322.00,275.00 C322.80,276.27 323.08,279.17 323.30,280.00" stroke="#1a1a1a" stroke-width="2.59" fill="none" stroke-linejoin="round" stroke-linecap="round"/>
<path d="M302.50,257.00 C302.72,257.83 303.47,260.33 303.80,262.00 C304.13,263.67 303.75,265.53 304.50,267.00 C305.25,268.47 305.97,269.90 308.30,270.80 C310.63,271.70 316.22,271.70 318.50,272.40 C320.78,273.10 321.20,273.73 322.00,275.00 C322.80,276.27 323.08,279.17 323.30,280.00" stroke="#fff" stroke-width="0.89" fill="none" stroke-linejoin="round" stroke-linecap="round"/>
<rect x="321.5" y="279.5" width="3.8" height="6" rx="1.2" fill="#fff" stroke="#111" stroke-width="0.7"/>
<path d="M306,281.5 L308,278.6 L313,277.8 L318.5,278.6 L320,281 L319.4,285 L316,287.6 L310.5,288.2 L306.8,286.4 Z" fill="#cfcfcf" stroke="#111" stroke-width="1.0"/>
<path d="M307.5,281.8 L318.5,280.2 M307.6,284.2 L318.8,282.6 M310.5,279 L311.5,287.5 M313.8,278.6 L314.8,287.4 M317,279 L317.6,286" stroke="#222" stroke-width="0.7"/>
<path d="M308.3,283 L310.3,282.7 L310.5,285.5 L308.5,285.8 Z M312,282.4 L314,282.1 L314.2,285 L312.2,285.3 Z" fill="#fff"/>
<path d="M306.50,285.50 C307.08,286.58 308.83,289.83 310.00,292.00 C311.17,294.17 312.92,297.42 313.50,298.50" stroke="#1a1a1a" stroke-width="3.24" fill="none" stroke-linejoin="round" stroke-linecap="round"/>
<path d="M306.50,285.50 C307.08,286.58 308.83,289.83 310.00,292.00 C311.17,294.17 312.92,297.42 313.50,298.50" stroke="#fff" stroke-width="1.14" fill="none" stroke-linejoin="round" stroke-linecap="round"/>
<path d="M309.00,285.00 C309.58,286.08 311.42,289.42 312.50,291.50 C313.58,293.58 315.00,296.50 315.50,297.50" stroke="#1a1a1a" stroke-width="2.16" fill="none" stroke-linejoin="round" stroke-linecap="round"/>
<path d="M309.00,285.00 C309.58,286.08 311.42,289.42 312.50,291.50 C313.58,293.58 315.00,296.50 315.50,297.50" stroke="#fff" stroke-width="0.86" fill="none" stroke-linejoin="round" stroke-linecap="round"/>
<rect x="310.3" y="298.3" width="8.8" height="4.8" rx="1" transform="rotate(10 314.7 300.7)" fill="#ccc" stroke="#111" stroke-width="0.9"/>
<rect x="312.8" y="298.8" width="3.4" height="3.6" fill="#111"/>
<path d="M313.10,302.02 C313.12,303.06 312.86,306.43 313.22,308.26 C313.59,310.09 314.29,312.24 315.27,312.99 C316.25,313.74 317.61,313.68 319.12,312.75 C320.64,311.82 322.38,309.71 324.36,307.42 C326.33,305.13 328.86,301.21 330.98,299.00 C333.11,296.79 334.84,294.69 337.11,294.16 C339.38,293.64 342.17,295.14 344.61,295.85 C347.05,296.55 349.85,298.31 351.77,298.40 C353.68,298.48 354.53,296.71 356.11,296.36 C357.70,296.02 358.83,295.26 361.29,296.34 C363.76,297.42 367.68,300.68 370.92,302.86 C374.16,305.05 379.08,308.36 380.72,309.46" stroke="#1a1a1a" stroke-width="2.70" fill="none" stroke-linejoin="round" stroke-linecap="round"/>
<path d="M313.10,302.02 C313.12,303.06 312.86,306.43 313.22,308.26 C313.59,310.09 314.29,312.24 315.27,312.99 C316.25,313.74 317.61,313.68 319.12,312.75 C320.64,311.82 322.38,309.71 324.36,307.42 C326.33,305.13 328.86,301.21 330.98,299.00 C333.11,296.79 334.84,294.69 337.11,294.16 C339.38,293.64 342.17,295.14 344.61,295.85 C347.05,296.55 349.85,298.31 351.77,298.40 C353.68,298.48 354.53,296.71 356.11,296.36 C357.70,296.02 358.83,295.26 361.29,296.34 C363.76,297.42 367.68,300.68 370.92,302.86 C374.16,305.05 379.08,308.36 380.72,309.46" stroke="#fff" stroke-width="0.90" fill="none" stroke-linejoin="round" stroke-linecap="round"/>
<path d="M315.90,301.98 C315.91,302.94 315.84,306.30 315.98,307.74 C316.11,309.18 316.41,310.19 316.73,310.61 C317.05,311.02 316.96,311.08 317.88,310.25 C318.79,309.41 320.39,307.79 322.24,305.58 C324.10,303.37 326.64,299.36 329.02,297.00 C331.39,294.65 333.76,292.08 336.49,291.44 C339.22,290.79 342.86,292.46 345.39,293.15 C347.91,293.85 349.95,295.52 351.63,295.60 C353.32,295.68 353.74,293.96 355.49,293.64 C357.23,293.31 359.27,292.51 362.11,293.66 C364.94,294.81 369.12,298.29 372.48,300.54 C375.84,302.78 380.65,306.04 382.28,307.14" stroke="#1a1a1a" stroke-width="2.70" fill="none" stroke-linejoin="round" stroke-linecap="round"/>
<path d="M315.90,301.98 C315.91,302.94 315.84,306.30 315.98,307.74 C316.11,309.18 316.41,310.19 316.73,310.61 C317.05,311.02 316.96,311.08 317.88,310.25 C318.79,309.41 320.39,307.79 322.24,305.58 C324.10,303.37 326.64,299.36 329.02,297.00 C331.39,294.65 333.76,292.08 336.49,291.44 C339.22,290.79 342.86,292.46 345.39,293.15 C347.91,293.85 349.95,295.52 351.63,295.60 C353.32,295.68 353.74,293.96 355.49,293.64 C357.23,293.31 359.27,292.51 362.11,293.66 C364.94,294.81 369.12,298.29 372.48,300.54 C375.84,302.78 380.65,306.04 382.28,307.14" stroke="#fff" stroke-width="0.90" fill="none" stroke-linejoin="round" stroke-linecap="round"/>
<rect x="344" y="292.2" width="7.5" height="5.8" rx="1" transform="rotate(18 347.7 295.1)" fill="#ddd" stroke="#111" stroke-width="0.9"/>
<path d="M346.5,292.6 L345.6,297.6 M349.2,293.5 L348.3,298.4" stroke="#111" stroke-width="0.9"/>
<path d="M388.50,313.00 L394.50,318.80" stroke="#1a1a1a" stroke-width="2.05" fill="none" stroke-linejoin="round" stroke-linecap="round"/>
<path d="M388.50,313.00 L394.50,318.80" stroke="#fff" stroke-width="0.85" fill="none" stroke-linejoin="round" stroke-linecap="round"/>
<ellipse cx="394.6" cy="319.6" rx="2.9" ry="2.2" transform="rotate(40 394.6 319.6)" fill="#fff" stroke="#222" stroke-width="0.8"/>
<ellipse cx="395.2" cy="320.2" rx="1.2" ry="0.9" fill="#ddd"/>
<path d="M383,306.6 L386.6,306 L390.2,308 L391.6,311.4 L389.2,313.6 L385,314.6 L382.4,312.2 Z" fill="#1e1e1e"/>
<path d="M387.3,309.2 L389.6,310.4" stroke="#eee" stroke-width="0.9"/>
<path d="M384.5,312.6 L386.6,313.4" stroke="#bbb" stroke-width="0.6"/>
<text x="341.40" y="283.20" textLength="28.60" lengthAdjust="spacingAndGlyphs" font-size="9.70" font-weight="bold" fill="#0a14ff" stroke="#0a14ff" stroke-width="0.12">2C294</text>
<path d="M353.30,284.50 L353.30,294.50" stroke="#333" stroke-width="0.80" fill="none" stroke-linejoin="round" stroke-linecap="round"/>
<circle cx="353.30" cy="294.80" r="1.15" fill="#000"/>
<path d="M248.30,308.00 C248.32,303.50 248.20,285.87 248.40,281.00 C248.60,276.13 248.90,279.13 249.50,278.80 C250.10,278.47 250.25,278.22 252.00,279.00 C253.75,279.78 258.50,282.25 260.00,283.50 C261.50,284.75 260.82,283.50 261.00,286.50 C261.18,289.50 261.08,299.00 261.10,301.50" stroke="#1a1a1a" stroke-width="2.48" fill="none" stroke-linejoin="round" stroke-linecap="round"/>
<path d="M248.30,308.00 C248.32,303.50 248.20,285.87 248.40,281.00 C248.60,276.13 248.90,279.13 249.50,278.80 C250.10,278.47 250.25,278.22 252.00,279.00 C253.75,279.78 258.50,282.25 260.00,283.50 C261.50,284.75 260.82,283.50 261.00,286.50 C261.18,289.50 261.08,299.00 261.10,301.50" stroke="#a8a8a8" stroke-width="0.98" fill="none" stroke-linejoin="round" stroke-linecap="round"/>
<rect x="259.3" y="301" width="3.8" height="5.8" rx="1.2" fill="#eee" stroke="#111" stroke-width="0.8"/>
<rect x="259.6" y="301.6" width="3.2" height="1.6" fill="#333"/>
<path d="M249.50,307.50 C248.92,307.75 246.80,308.08 246.00,309.00 C245.20,309.92 244.75,311.33 244.70,313.00 C244.65,314.67 245.07,317.70 245.70,319.00 C246.33,320.30 247.75,320.97 248.50,320.80 C249.25,320.63 249.98,319.63 250.20,318.00 C250.42,316.37 249.87,312.17 249.80,311.00" stroke="#1a1a1a" stroke-width="2.38" fill="none" stroke-linejoin="round" stroke-linecap="round"/>
<path d="M249.50,307.50 C248.92,307.75 246.80,308.08 246.00,309.00 C245.20,309.92 244.75,311.33 244.70,313.00 C244.65,314.67 245.07,317.70 245.70,319.00 C246.33,320.30 247.75,320.97 248.50,320.80 C249.25,320.63 249.98,319.63 250.20,318.00 C250.42,316.37 249.87,312.17 249.80,311.00" stroke="#fff" stroke-width="0.88" fill="none" stroke-linejoin="round" stroke-linecap="round"/>
<path d="M251.20,306.60 C251.58,306.33 252.87,304.93 253.50,305.00 C254.13,305.07 254.73,305.33 255.00,307.00 C255.27,308.67 254.83,312.95 255.10,315.00 C255.37,317.05 255.82,317.83 256.60,319.30 C257.38,320.77 259.07,322.43 259.80,323.80 C260.53,325.17 260.87,325.80 261.00,327.50 C261.13,329.20 261.03,331.37 260.60,334.00 C260.17,336.63 258.92,339.80 258.40,343.30 C257.88,346.80 257.15,352.33 257.50,355.00 C257.85,357.67 259.12,358.27 260.50,359.30 C261.88,360.33 264.72,360.53 265.80,361.20 C266.88,361.87 267.80,362.12 267.00,363.30 C266.20,364.48 262.50,366.77 261.00,368.30 C259.50,369.83 258.70,370.55 258.00,372.50 C257.30,374.45 257.02,377.08 256.80,380.00 C256.58,382.92 256.70,387.08 256.70,390.00 C256.70,392.92 256.78,396.25 256.80,397.50" stroke="#1a1a1a" stroke-width="2.59" fill="none" stroke-linejoin="round" stroke-linecap="round"/>
<path d="M251.20,306.60 C251.58,306.33 252.87,304.93 253.50,305.00 C254.13,305.07 254.73,305.33 255.00,307.00 C255.27,308.67 254.83,312.95 255.10,315.00 C255.37,317.05 255.82,317.83 256.60,319.30 C257.38,320.77 259.07,322.43 259.80,323.80 C260.53,325.17 260.87,325.80 261.00,327.50 C261.13,329.20 261.03,331.37 260.60,334.00 C260.17,336.63 258.92,339.80 258.40,343.30 C257.88,346.80 257.15,352.33 257.50,355.00 C257.85,357.67 259.12,358.27 260.50,359.30 C261.88,360.33 264.72,360.53 265.80,361.20 C266.88,361.87 267.80,362.12 267.00,363.30 C266.20,364.48 262.50,366.77 261.00,368.30 C259.50,369.83 258.70,370.55 258.00,372.50 C257.30,374.45 257.02,377.08 256.80,380.00 C256.58,382.92 256.70,387.08 256.70,390.00 C256.70,392.92 256.78,396.25 256.80,397.50" stroke="#a8a8a8" stroke-width="1.09" fill="none" stroke-linejoin="round" stroke-linecap="round"/>
<rect x="256" y="388" width="4" height="5.5" rx="1" fill="#fff" stroke="#111" stroke-width="0.7"/>
<rect x="256.4" y="387.5" width="3.2" height="2" fill="#111"/>
<path d="M260.00,378.00 L272.20,384.50 L275.00,371.70 L275.60,367.00" stroke="#333" stroke-width="0.80" fill="none" stroke-linejoin="round" stroke-linecap="round"/>
<text x="209.30" y="303.00" textLength="28.70" lengthAdjust="spacingAndGlyphs" font-size="9.70" font-weight="bold" fill="#0a14ff" stroke="#0a14ff" stroke-width="0.12">2C293</text>
<path d="M238.50,297.90 L247.20,297.90" stroke="#333" stroke-width="0.80" fill="none" stroke-linejoin="round" stroke-linecap="round"/>
<circle cx="247.20" cy="297.90" r="1.10" fill="#000"/>
<path d="M266,314.2 L268,313 L270.5,313.2 L272.5,315.2 L275.8,315.5 L275.8,317.6 L272.6,317.8 L270.5,318.8 L268,318.9 L266,317.5 Z" fill="#fff" stroke="#111" stroke-width="0.8"/>
<path d="M272.3,315.3 L275.8,315.5 L275.8,317.6 L272.3,317.8 Z" fill="#111"/>
<path d="M267.3,314.2 L269.8,313.6 L270.3,316.2 L268,317.5 Z" fill="#333"/>
<path d="M275.50,316.70 L286.50,316.70" stroke="#333" stroke-width="0.80" fill="none" stroke-linejoin="round" stroke-linecap="round"/>
<path d="M265.80,314.30 L256.50,315.20" stroke="#ff3030" stroke-width="0.60" fill="none" stroke-linejoin="round" stroke-linecap="round"/>
<path d="M265.80,317.00 L256.50,315.20" stroke="#ff3030" stroke-width="0.60" fill="none" stroke-linejoin="round" stroke-linecap="round"/>
<text x="286.80" y="321.60" textLength="18.60" lengthAdjust="spacingAndGlyphs" font-size="9.70" font-weight="bold" fill="#0a14ff" stroke="#0a14ff" stroke-width="0.12">HC1</text>
<text x="264.30" y="336.60" textLength="18.30" lengthAdjust="spacingAndGlyphs" font-size="9.70" font-weight="bold" fill="#0a14ff" stroke="#0a14ff" stroke-width="0.12">HC1</text>
<path d="M272.50,338.00 L272.50,342.50" stroke="#333" stroke-width="0.80" fill="none" stroke-linejoin="round" stroke-linecap="round"/>
<path d="M272.30,341.00 L273.60,341.80 L274.30,343.50 L275.00,345.50 L275.70,347.80 L274.90,349.20 L273.30,350.70 L271.30,350.30 L269.70,347.60 L270.10,345.50 L271.00,342.20 Z" fill="#1c1c1c" stroke="#000" stroke-width="0.5"/>
<ellipse cx="272.40" cy="346.00" rx="0.9" ry="1.3" fill="#666"/>
<path d="M273.40,348.40 L274.90,348.00" stroke="#e8e8e8" stroke-width="0.7"/>
<path d="M268.20,352.00 L265.60,359.60" stroke="#ff3030" stroke-width="0.60" fill="none" stroke-linejoin="round" stroke-linecap="round"/>
<path d="M271.60,352.00 L265.60,359.60" stroke="#ff3030" stroke-width="0.60" fill="none" stroke-linejoin="round" stroke-linecap="round"/>
<path d="M277.50,361.00 C278.05,360.00 279.55,357.12 280.80,355.00 C282.05,352.88 283.60,350.10 285.00,348.30 C286.40,346.50 287.67,345.32 289.20,344.20 C290.73,343.08 292.53,341.93 294.20,341.60 C295.87,341.27 297.68,341.73 299.20,342.20 C300.72,342.67 302.05,343.38 303.30,344.40 C304.55,345.42 305.58,346.67 306.70,348.30 C307.82,349.93 309.07,352.25 310.00,354.20 C310.93,356.15 311.80,358.03 312.30,360.00 C312.80,361.97 312.88,365.00 313.00,366.00" stroke="#1a1a1a" stroke-width="3.56" fill="none" stroke-linejoin="round" stroke-linecap="round"/>
<path d="M277.50,361.00 C278.05,360.00 279.55,357.12 280.80,355.00 C282.05,352.88 283.60,350.10 285.00,348.30 C286.40,346.50 287.67,345.32 289.20,344.20 C290.73,343.08 292.53,341.93 294.20,341.60 C295.87,341.27 297.68,341.73 299.20,342.20 C300.72,342.67 302.05,343.38 303.30,344.40 C304.55,345.42 305.58,346.67 306.70,348.30 C307.82,349.93 309.07,352.25 310.00,354.20 C310.93,356.15 311.80,358.03 312.30,360.00 C312.80,361.97 312.88,365.00 313.00,366.00" stroke="#fff" stroke-width="1.16" fill="none" stroke-linejoin="round" stroke-linecap="round"/>
<path d="M312.80,366.00 C312.87,367.00 313.13,368.83 313.20,372.00 C313.27,375.17 313.45,380.88 313.20,385.00 C312.95,389.12 312.48,393.12 311.70,396.70 C310.92,400.28 309.45,403.20 308.50,406.50 C307.55,409.80 306.65,413.67 306.00,416.50 C305.35,419.33 304.83,422.33 304.60,423.50" stroke="#1a1a1a" stroke-width="4.97" fill="none" stroke-linejoin="round" stroke-linecap="round"/>
<path d="M312.80,366.00 C312.87,367.00 313.13,368.83 313.20,372.00 C313.27,375.17 313.45,380.88 313.20,385.00 C312.95,389.12 312.48,393.12 311.70,396.70 C310.92,400.28 309.45,403.20 308.50,406.50 C307.55,409.80 306.65,413.67 306.00,416.50 C305.35,419.33 304.83,422.33 304.60,423.50" stroke="#fff" stroke-width="2.42" fill="none" stroke-linejoin="round" stroke-linecap="round"/>
<rect x="280.50" y="349.30" width="4.00" height="6.00" rx="1.60" transform="rotate(-55.0 282.50 352.30)" fill="#fff" stroke="#000" stroke-width="1.0"/>
<rect x="284.40" y="343.40" width="3.60" height="5.60" rx="1.44" transform="rotate(-40.0 286.20 346.20)" fill="#fff" stroke="#000" stroke-width="1.0"/>
<rect x="292.10" y="340.00" width="2.80" height="5.60" rx="1.12" transform="rotate(-10.0 293.50 342.80)" fill="#fff" stroke="#000" stroke-width="1.0"/>
<rect x="301.60" y="341.30" width="2.80" height="5.60" rx="1.12" transform="rotate(30.0 303.00 344.10)" fill="#fff" stroke="#000" stroke-width="1.0"/>
<rect x="304.60" y="350.30" width="8.00" height="6.20" rx="2.48" transform="rotate(60.0 308.60 353.40)" fill="#fff" stroke="#000" stroke-width="1.0"/>
<rect x="275.80" y="358.20" width="4.20" height="6.20" rx="1.68" transform="rotate(-60.0 277.90 361.30)" fill="#fff" stroke="#000" stroke-width="1.0"/>
<ellipse cx="275.5" cy="368.8" rx="2.6" ry="3.4" transform="rotate(15 275.5 368.8)" fill="#fff" stroke="#111" stroke-width="0.85"/>
<path d="M274.60,372.30 L273.40,384.50" stroke="#222" stroke-width="0.80" fill="none" stroke-linejoin="round" stroke-linecap="round"/>
<rect x="308.2" y="364.0" width="7.4" height="6.6" rx="2" fill="#fff" stroke="#111" stroke-width="0.9"/>
<path d="M308.40,366.80 L315.40,366.80" stroke="#111" stroke-width="0.80" fill="none" stroke-linejoin="round" stroke-linecap="round"/>
<path d="M308.40,368.60 L315.40,368.60" stroke="#333" stroke-width="0.60" fill="none" stroke-linejoin="round" stroke-linecap="round"/>
<path d="M312.4,388.8 L321.4,390.2 L320.7,395.8 L311.6,394.6 Z" fill="#fff" stroke="#111" stroke-width="0.8"/>
<rect x="303.5" y="413" width="5.2" height="8" rx="0.8" transform="rotate(15 306 417)" fill="#fff" stroke="#111" stroke-width="0.8"/>
<circle cx="308.40" cy="415.10" r="1.15" fill="#000"/>
<path d="M303.8,420.5 L306.6,421.3 L305.6,426 L303,425.4 Z" fill="#fff" stroke="#111" stroke-width="0.85"/>
<path d="M301.5,425 L304.5,424.6 L307.6,427 L307.3,430.2 L305,432.6 L302,432.4 L299.2,430.5 L299,427.2 Z" fill="#fff" stroke="#111" stroke-width="0.95"/>
<circle cx="304.7" cy="429.2" r="1.5" fill="#fff" stroke="#222" stroke-width="0.8"/>
<circle cx="300.9" cy="427.6" r="1.3" fill="#fff" stroke="#222" stroke-width="0.8"/>
<text x="322.60" y="419.20" textLength="22.60" lengthAdjust="spacingAndGlyphs" font-size="9.70" font-weight="bold" fill="#0a14ff" stroke="#0a14ff" stroke-width="0.12">2078</text>
<path d="M308.60,415.10 L322.50,415.10" stroke="#333" stroke-width="0.80" fill="none" stroke-linejoin="round" stroke-linecap="round"/>
<path d="M292.3,380.3 L296.4,381.2 L295.2,383.1 L291.2,383.6 Z" fill="#aaa" stroke="#000" stroke-width="0.8"/>
<ellipse cx="288.1" cy="379.4" rx="1.5" ry="2.6" transform="rotate(-25 288.1 379.4)" fill="#888" stroke="#000" stroke-width="0.95"/>
<ellipse cx="292.4" cy="377.8" rx="1.5" ry="3.0" transform="rotate(-12 292.4 377.8)" fill="#888" stroke="#000" stroke-width="0.95"/>
<ellipse cx="290.4" cy="383.3" rx="1.5" ry="1.4" fill="#000"/>
<path d="M290.50,384.00 L290.50,398.30" stroke="#333" stroke-width="0.80" fill="none" stroke-linejoin="round" stroke-linecap="round"/>
<path d="M279.60,365.00 L287.30,376.80" stroke="#ff3030" stroke-width="0.60" fill="none" stroke-linejoin="round" stroke-linecap="round"/>
<path d="M279.60,364.20 L291.00,374.90" stroke="#ff3030" stroke-width="0.60" fill="none" stroke-linejoin="round" stroke-linecap="round"/>
<text x="278.40" y="406.60" textLength="28.20" lengthAdjust="spacingAndGlyphs" font-size="9.70" font-weight="bold" fill="#0a14ff" stroke="#0a14ff" stroke-width="0.12">9F481</text>
<path d="M337.9,375.6 L340,373.8 L341.3,372.9 L342.6,373.9 L345.5,374.1 L348.3,375.2 L348.9,377 L347.5,378.3 L344,378.8 L342.5,379.5 L341,378.5 L338.6,377.6 Z" fill="#fff" stroke="#000" stroke-width="1.05"/>
<ellipse cx="338.9" cy="375.9" rx="1.1" ry="1.1" fill="#000"/>
<ellipse cx="342.3" cy="378.8" rx="1.0" ry="0.9" fill="#000"/>
<ellipse cx="341.4" cy="373.4" rx="0.8" ry="0.6" fill="#000"/>
<path d="M344.8,374.4 L345.6,378.4" stroke="#000" stroke-width="0.6"/>
<path d="M342.30,379.50 L342.30,393.40" stroke="#333" stroke-width="0.80" fill="none" stroke-linejoin="round" stroke-linecap="round"/>
<path d="M316.80,367.80 L337.80,372.80" stroke="#ff3030" stroke-width="0.60" fill="none" stroke-linejoin="round" stroke-linecap="round"/>
<path d="M316.80,368.60 L337.20,376.40" stroke="#ff3030" stroke-width="0.60" fill="none" stroke-linejoin="round" stroke-linecap="round"/>
<text x="333.40" y="400.70" textLength="18.40" lengthAdjust="spacingAndGlyphs" font-size="9.70" font-weight="bold" fill="#0a14ff" stroke="#0a14ff" stroke-width="0.12">HC2</text>
<path d="M237.80,403.20 L164.20,525.00" stroke="#ff3030" stroke-width="0.70" fill="none" stroke-linejoin="round" stroke-linecap="round"/>
<path d="M258.80,415.40 L164.20,525.00" stroke="#ff3030" stroke-width="0.70" fill="none" stroke-linejoin="round" stroke-linecap="round"/>
<path d="M150.00,484.50 C151.00,483.58 153.83,480.75 156.00,479.00 C158.17,477.25 160.33,475.92 163.00,474.00 C165.67,472.08 169.00,469.50 172.00,467.50 C175.00,465.50 177.17,464.25 181.00,462.00 C184.83,459.75 190.00,456.83 195.00,454.00 C200.00,451.17 206.00,447.17 211.00,445.00 C216.00,442.83 220.33,442.12 225.00,441.00 C229.67,439.88 236.67,438.75 239.00,438.30" stroke="#6e6e6e" stroke-width="0.55" fill="none" stroke-linejoin="round" stroke-linecap="round"/>
<path d="M163.50,476.00 C165.00,474.92 169.50,471.50 172.50,469.50 C175.50,467.50 177.67,466.25 181.50,464.00 C185.33,461.75 190.58,458.75 195.50,456.00 C200.42,453.25 206.25,449.62 211.00,447.50 C215.75,445.38 221.83,444.00 224.00,443.30" stroke="#6e6e6e" stroke-width="0.45" fill="none" stroke-linejoin="round" stroke-linecap="round"/>
<path d="M239.00,438.30 C240.00,438.35 243.08,438.10 245.00,438.60 C246.92,439.10 248.58,439.82 250.50,441.30 C252.42,442.78 254.92,445.30 256.50,447.50 C258.08,449.70 259.33,452.67 260.00,454.50 C260.67,456.33 260.67,457.58 260.50,458.50 C260.33,459.42 259.25,459.75 259.00,460.00" stroke="#6e6e6e" stroke-width="0.55" fill="none" stroke-linejoin="round" stroke-linecap="round"/>
<path d="M240.00,440.80 C241.33,441.00 245.67,440.97 248.00,442.00 C250.33,443.03 252.42,445.17 254.00,447.00 C255.58,448.83 256.75,451.25 257.50,453.00 C258.25,454.75 258.33,456.75 258.50,457.50" stroke="#6e6e6e" stroke-width="0.40" fill="none" stroke-linejoin="round" stroke-linecap="round"/>
<path d="M172.00,471.00 L212.00,447.00" stroke="#c6c6c6" stroke-width="1.60" fill="none" stroke-linejoin="round" stroke-linecap="round"/>
<path d="M172.00,471.00 L212.00,447.00" stroke="#9a9a9a" stroke-width="0.30" fill="none" stroke-linejoin="round" stroke-linecap="round"/>
<path d="M180.00,476.00 L211.00,457.50" stroke="#c6c6c6" stroke-width="1.60" fill="none" stroke-linejoin="round" stroke-linecap="round"/>
<path d="M180.00,476.00 L211.00,457.50" stroke="#9a9a9a" stroke-width="0.30" fill="none" stroke-linejoin="round" stroke-linecap="round"/>
<path d="M200.00,486.20 L243.00,451.50" stroke="#c6c6c6" stroke-width="1.60" fill="none" stroke-linejoin="round" stroke-linecap="round"/>
<path d="M200.00,486.20 L243.00,451.50" stroke="#9a9a9a" stroke-width="0.30" fill="none" stroke-linejoin="round" stroke-linecap="round"/>
<path d="M209.00,485.50 L251.00,457.00" stroke="#c6c6c6" stroke-width="1.60" fill="none" stroke-linejoin="round" stroke-linecap="round"/>
<path d="M209.00,485.50 L251.00,457.00" stroke="#9a9a9a" stroke-width="0.30" fill="none" stroke-linejoin="round" stroke-linecap="round"/>
<path d="M163.00,474.00 C163.83,474.63 166.00,476.33 168.00,477.80 C170.00,479.27 172.17,481.05 175.00,482.80 C177.83,484.55 181.00,486.35 185.00,488.30 C189.00,490.25 196.67,493.47 199.00,494.50" stroke="#6e6e6e" stroke-width="0.55" fill="none" stroke-linejoin="round" stroke-linecap="round"/>
<path d="M199.00,494.50 C200.00,493.67 202.67,491.17 205.00,489.50 C207.33,487.83 209.67,486.33 213.00,484.50 C216.33,482.67 220.50,480.83 225.00,478.50 C229.50,476.17 235.33,473.25 240.00,470.50 C244.67,467.75 249.75,463.83 253.00,462.00 C256.25,460.17 258.42,459.92 259.50,459.50" stroke="#6e6e6e" stroke-width="0.55" fill="none" stroke-linejoin="round" stroke-linecap="round"/>
<path d="M201.50,493.00 C203.58,491.83 208.25,489.08 214.00,486.00 C219.75,482.92 229.33,478.17 236.00,474.50 C242.67,470.83 251.00,465.75 254.00,464.00" stroke="#6e6e6e" stroke-width="0.40" fill="none" stroke-linejoin="round" stroke-linecap="round"/>
<path d="M163.00,474.00 C162.00,474.83 158.88,477.45 157.00,479.00 C155.12,480.55 153.62,481.67 151.70,483.30 C149.78,484.93 147.28,487.18 145.50,488.80 C143.72,490.42 142.12,491.88 141.00,493.00 C139.88,494.12 139.17,495.08 138.80,495.50" stroke="#6e6e6e" stroke-width="0.55" fill="none" stroke-linejoin="round" stroke-linecap="round"/>
<path d="M164.50,475.00 C163.50,475.92 160.33,478.83 158.50,480.50 C156.67,482.17 155.42,483.33 153.50,485.00 C151.58,486.67 148.83,488.92 147.00,490.50 C145.17,492.08 143.50,493.50 142.50,494.50 C141.50,495.50 141.25,496.17 141.00,496.50" stroke="#6e6e6e" stroke-width="0.40" fill="none" stroke-linejoin="round" stroke-linecap="round"/>
<path d="M199.00,494.50 C198.58,495.33 197.42,497.67 196.50,499.50 C195.58,501.33 194.58,503.25 193.50,505.50 C192.42,507.75 191.08,510.75 190.00,513.00 C188.92,515.25 187.83,517.42 187.00,519.00 C186.17,520.58 185.33,521.92 185.00,522.50" stroke="#6e6e6e" stroke-width="0.55" fill="none" stroke-linejoin="round" stroke-linecap="round"/>
<path d="M202.00,495.50 C201.58,496.33 200.42,498.58 199.50,500.50 C198.58,502.42 197.58,504.58 196.50,507.00 C195.42,509.42 194.08,512.50 193.00,515.00 C191.92,517.50 190.50,520.83 190.00,522.00" stroke="#6e6e6e" stroke-width="0.40" fill="none" stroke-linejoin="round" stroke-linecap="round"/>
<path d="M138.80,495.50 C139.38,496.38 140.43,499.38 142.30,500.80 C144.17,502.22 147.05,502.55 150.00,504.00 C152.95,505.45 156.67,507.75 160.00,509.50 C163.33,511.25 167.00,512.83 170.00,514.50 C173.00,516.17 175.67,517.83 178.00,519.50 C180.33,521.17 183.00,523.67 184.00,524.50" stroke="#6e6e6e" stroke-width="0.55" fill="none" stroke-linejoin="round" stroke-linecap="round"/>
<path d="M141.50,499.80 C143.25,500.77 148.42,503.63 152.00,505.60 C155.58,507.57 159.33,509.67 163.00,511.60 C166.67,513.53 170.75,515.47 174.00,517.20 C177.25,518.93 181.08,521.20 182.50,522.00" stroke="#6e6e6e" stroke-width="0.40" fill="none" stroke-linejoin="round" stroke-linecap="round"/>
<path d="M143.00,501.50 C144.67,502.42 150.17,505.45 153.00,507.00 C155.83,508.55 158.83,510.17 160.00,510.80" stroke="#999" stroke-width="0.90" fill="none" stroke-linejoin="round" stroke-linecap="round"/>
<path d="M138.80,495.50 C137.83,496.17 134.75,498.22 133.00,499.50 C131.25,500.78 129.80,502.03 128.30,503.20 C126.80,504.37 125.38,505.37 124.00,506.50 C122.62,507.63 121.33,508.58 120.00,510.00 C118.67,511.42 117.13,513.17 116.00,515.00 C114.87,516.83 113.98,518.83 113.20,521.00 C112.42,523.17 111.70,525.67 111.30,528.00 C110.90,530.33 110.85,532.83 110.80,535.00 C110.75,537.17 110.75,538.83 111.00,541.00 C111.25,543.17 111.72,545.92 112.30,548.00 C112.88,550.08 113.72,551.92 114.50,553.50 C115.28,555.08 116.58,556.83 117.00,557.50" stroke="#6e6e6e" stroke-width="0.55" fill="none" stroke-linejoin="round" stroke-linecap="round"/>
<path d="M137.00,497.50 C135.33,498.83 130.00,503.00 127.00,505.50 C124.00,508.00 121.08,510.08 119.00,512.50 C116.92,514.92 115.25,518.75 114.50,520.00" stroke="#6e6e6e" stroke-width="0.40" fill="none" stroke-linejoin="round" stroke-linecap="round"/>
<path d="M114.00,526.50 C115.17,527.08 118.67,528.83 121.00,530.00 C123.33,531.17 125.67,532.33 128.00,533.50 C130.33,534.67 132.80,535.87 135.00,537.00 C137.20,538.13 139.03,539.47 141.20,540.30 C143.37,541.13 145.53,541.67 148.00,542.00 C150.47,542.33 153.67,542.47 156.00,542.30 C158.33,542.13 161.00,541.22 162.00,541.00" stroke="#6e6e6e" stroke-width="0.55" fill="none" stroke-linejoin="round" stroke-linecap="round"/>
<path d="M128.00,529.50 C129.67,530.00 134.67,531.58 138.00,532.50 C141.33,533.42 144.67,534.45 148.00,535.00 C151.33,535.55 156.33,535.67 158.00,535.80" stroke="#6e6e6e" stroke-width="0.40" fill="none" stroke-linejoin="round" stroke-linecap="round"/>
<path d="M126.00,527.00 L131.00,529.00" stroke="#6e6e6e" stroke-width="0.40" fill="none" stroke-linejoin="round" stroke-linecap="round"/>
<path d="M115.5,529 L141.5,542.2 L141.8,546.4 L115.7,533.6 Z" fill="#c8c8c8" stroke="#666" stroke-width="0.5"/>
<path d="M115.60,530.15 L141.60,543.25" stroke="#888" stroke-width="0.35" fill="none" stroke-linejoin="round" stroke-linecap="round"/>
<path d="M115.60,531.30 L141.60,544.30" stroke="#888" stroke-width="0.35" fill="none" stroke-linejoin="round" stroke-linecap="round"/>
<path d="M115.60,532.45 L141.60,545.35" stroke="#888" stroke-width="0.35" fill="none" stroke-linejoin="round" stroke-linecap="round"/>
<path d="M141.80,543.50 C142.83,543.92 145.63,545.42 148.00,546.00 C150.37,546.58 153.67,547.17 156.00,547.00 C158.33,546.83 161.00,545.33 162.00,545.00" stroke="#6e6e6e" stroke-width="0.45" fill="none" stroke-linejoin="round" stroke-linecap="round"/>
<path d="M143.00,546.50 C144.17,547.00 147.50,549.00 150.00,549.50 C152.50,550.00 156.67,549.50 158.00,549.50" stroke="#6e6e6e" stroke-width="0.40" fill="none" stroke-linejoin="round" stroke-linecap="round"/>
<path d="M113.8,544.3 L140.5,557 L141.4,560.2 L114.6,547.6 Z" fill="#c4c4c4" stroke="#666" stroke-width="0.5"/>
<path d="M114.20,546.00 L141.00,558.60" stroke="#888" stroke-width="0.35" fill="none" stroke-linejoin="round" stroke-linecap="round"/>
<path d="M112.50,548.50 C113.08,549.25 114.42,551.67 116.00,553.00 C117.58,554.33 119.33,555.17 122.00,556.50 C124.67,557.83 128.67,559.72 132.00,561.00 C135.33,562.28 139.00,563.45 142.00,564.20 C145.00,564.95 147.00,565.20 150.00,565.50 C153.00,565.80 157.67,566.00 160.00,566.00 C162.33,566.00 163.33,565.58 164.00,565.50" stroke="#6e6e6e" stroke-width="0.55" fill="none" stroke-linejoin="round" stroke-linecap="round"/>
<path d="M112.00,540.00 C113.33,540.67 117.00,542.50 120.00,544.00 C123.00,545.50 126.50,547.42 130.00,549.00 C133.50,550.58 137.67,552.67 141.00,553.50 C144.33,554.33 146.83,554.17 150.00,554.00 C153.17,553.83 158.33,552.75 160.00,552.50" stroke="#6e6e6e" stroke-width="0.40" fill="none" stroke-linejoin="round" stroke-linecap="round"/>
<path d="M117.00,557.50 C118.83,558.42 124.17,561.33 128.00,563.00 C131.83,564.67 136.33,566.50 140.00,567.50 C143.67,568.50 146.67,568.67 150.00,569.00 C153.33,569.33 158.33,569.42 160.00,569.50" stroke="#6e6e6e" stroke-width="0.45" fill="none" stroke-linejoin="round" stroke-linecap="round"/>
<ellipse cx="151" cy="556.8" rx="5" ry="2.7" transform="rotate(-8 151 556.8)" fill="#d8d8d8" stroke="#666" stroke-width="0.5"/>
<ellipse cx="149.5" cy="557" rx="2.2" ry="1.3" fill="#fff" stroke="#777" stroke-width="0.4"/>
<ellipse cx="176.8" cy="555.2" rx="11.6" ry="14.2" transform="rotate(10 176.8 555.2)" fill="#fff" stroke="#6e6e6e" stroke-width="0.55"/>
<ellipse cx="178.3" cy="555" rx="8.8" ry="11.4" transform="rotate(10 178.3 555)" fill="none" stroke="#6e6e6e" stroke-width="0.55"/>
<ellipse cx="178.6" cy="555" rx="7.6" ry="10" transform="rotate(10 178.6 555)" fill="none" stroke="#999" stroke-width="0.4"/>
<path d="M180.60,555.00 L186.00,555.00" stroke="#8a8a8a" stroke-width="0.45" fill="none" stroke-linejoin="round" stroke-linecap="round"/>
<path d="M180.58,555.36 L185.93,556.34" stroke="#aaa" stroke-width="0.35" fill="none" stroke-linejoin="round" stroke-linecap="round"/>
<path d="M180.22,556.53 L184.59,560.64" stroke="#8a8a8a" stroke-width="0.45" fill="none" stroke-linejoin="round" stroke-linecap="round"/>
<path d="M180.04,556.81 L183.92,561.67" stroke="#aaa" stroke-width="0.35" fill="none" stroke-linejoin="round" stroke-linecap="round"/>
<path d="M179.22,557.47 L180.89,564.13" stroke="#8a8a8a" stroke-width="0.45" fill="none" stroke-linejoin="round" stroke-linecap="round"/>
<path d="M178.95,557.56 L179.88,564.45" stroke="#aaa" stroke-width="0.35" fill="none" stroke-linejoin="round" stroke-linecap="round"/>
<path d="M177.98,557.47 L176.31,564.13" stroke="#8a8a8a" stroke-width="0.45" fill="none" stroke-linejoin="round" stroke-linecap="round"/>
<path d="M177.72,557.34 L175.36,563.63" stroke="#aaa" stroke-width="0.35" fill="none" stroke-linejoin="round" stroke-linecap="round"/>
<path d="M176.98,556.53 L172.61,560.64" stroke="#8a8a8a" stroke-width="0.45" fill="none" stroke-linejoin="round" stroke-linecap="round"/>
<path d="M176.83,556.22 L172.07,559.51" stroke="#aaa" stroke-width="0.35" fill="none" stroke-linejoin="round" stroke-linecap="round"/>
<path d="M176.60,555.00 L171.20,555.00" stroke="#8a8a8a" stroke-width="0.45" fill="none" stroke-linejoin="round" stroke-linecap="round"/>
<path d="M176.62,554.64 L171.27,553.66" stroke="#aaa" stroke-width="0.35" fill="none" stroke-linejoin="round" stroke-linecap="round"/>
<path d="M176.98,553.47 L172.61,549.36" stroke="#8a8a8a" stroke-width="0.45" fill="none" stroke-linejoin="round" stroke-linecap="round"/>
<path d="M177.16,553.19 L173.28,548.33" stroke="#aaa" stroke-width="0.35" fill="none" stroke-linejoin="round" stroke-linecap="round"/>
<path d="M177.98,552.53 L176.31,545.87" stroke="#8a8a8a" stroke-width="0.45" fill="none" stroke-linejoin="round" stroke-linecap="round"/>
<path d="M178.25,552.44 L177.32,545.55" stroke="#aaa" stroke-width="0.35" fill="none" stroke-linejoin="round" stroke-linecap="round"/>
<path d="M179.22,552.53 L180.89,545.87" stroke="#8a8a8a" stroke-width="0.45" fill="none" stroke-linejoin="round" stroke-linecap="round"/>
<path d="M179.48,552.66 L181.84,546.37" stroke="#aaa" stroke-width="0.35" fill="none" stroke-linejoin="round" stroke-linecap="round"/>
<path d="M180.22,553.47 L184.59,549.36" stroke="#8a8a8a" stroke-width="0.45" fill="none" stroke-linejoin="round" stroke-linecap="round"/>
<path d="M180.37,553.78 L185.13,550.49" stroke="#aaa" stroke-width="0.35" fill="none" stroke-linejoin="round" stroke-linecap="round"/>
<path d="M163.00,567.00 C162.97,565.17 162.55,559.17 162.80,556.00 C163.05,552.83 163.47,550.33 164.50,548.00 C165.53,545.67 167.08,543.50 169.00,542.00 C170.92,540.50 173.67,539.42 176.00,539.00 C178.33,538.58 181.00,538.92 183.00,539.50 C185.00,540.08 186.75,541.08 188.00,542.50 C189.25,543.92 190.08,547.08 190.50,548.00" stroke="#6e6e6e" stroke-width="0.55" fill="none" stroke-linejoin="round" stroke-linecap="round"/>
<path d="M165.00,566.00 C165.00,564.33 164.67,558.83 165.00,556.00 C165.33,553.17 166.67,550.17 167.00,549.00" stroke="#6e6e6e" stroke-width="0.40" fill="none" stroke-linejoin="round" stroke-linecap="round"/>
<path d="M190.50,548.00 C192.08,547.17 196.42,544.92 200.00,543.00 C203.58,541.08 208.00,538.75 212.00,536.50 C216.00,534.25 220.00,531.92 224.00,529.50 C228.00,527.08 233.00,523.92 236.00,522.00 C239.00,520.08 241.00,518.67 242.00,518.00" stroke="#6e6e6e" stroke-width="0.55" fill="none" stroke-linejoin="round" stroke-linecap="round"/>
<path d="M190.50,541.00 C192.42,540.00 197.92,537.17 202.00,535.00 C206.08,532.83 211.17,530.08 215.00,528.00 C218.83,525.92 221.17,524.67 225.00,522.50 C228.83,520.33 235.00,516.75 238.00,515.00 C241.00,513.25 242.17,512.50 243.00,512.00" stroke="#6e6e6e" stroke-width="0.45" fill="none" stroke-linejoin="round" stroke-linecap="round"/>
<path d="M190.00,520.00 C190.07,521.67 190.27,526.50 190.40,530.00 C190.53,533.50 190.73,539.17 190.80,541.00" stroke="#6e6e6e" stroke-width="0.55" fill="none" stroke-linejoin="round" stroke-linecap="round"/>
<path d="M217.50,483.50 C217.83,484.92 218.95,488.97 219.50,492.00 C220.05,495.03 220.42,498.03 220.80,501.70 C221.18,505.37 221.52,509.87 221.80,514.00 C222.08,518.13 222.38,524.42 222.50,526.50" stroke="#6e6e6e" stroke-width="0.55" fill="none" stroke-linejoin="round" stroke-linecap="round"/>
<path d="M215.50,484.50 C215.83,485.92 216.95,490.08 217.50,493.00 C218.05,495.92 218.42,498.50 218.80,502.00 C219.18,505.50 219.52,509.75 219.80,514.00 C220.08,518.25 220.38,525.25 220.50,527.50" stroke="#6e6e6e" stroke-width="0.40" fill="none" stroke-linejoin="round" stroke-linecap="round"/>
<path d="M184.00,525.00 C185.33,524.08 189.88,521.08 192.00,519.50 C194.12,517.92 194.20,517.08 196.70,515.50 C199.20,513.92 202.95,512.17 207.00,510.00 C211.05,507.83 216.67,504.75 221.00,502.50 C225.33,500.25 229.00,498.58 233.00,496.50 C237.00,494.42 243.00,491.08 245.00,490.00" stroke="#6e6e6e" stroke-width="0.55" fill="none" stroke-linejoin="round" stroke-linecap="round"/>
<path d="M190.00,527.00 C192.50,525.58 199.67,521.42 205.00,518.50 C210.33,515.58 216.50,512.42 222.00,509.50 C227.50,506.58 234.00,503.17 238.00,501.00 C242.00,498.83 244.67,497.25 246.00,496.50" stroke="#6e6e6e" stroke-width="0.40" fill="none" stroke-linejoin="round" stroke-linecap="round"/>
<path d="M213.30,512.50 L220.80,509.20" stroke="#999" stroke-width="0.90" fill="none" stroke-linejoin="round" stroke-linecap="round"/>
<path d="M239.20,495.00 L245.80,491.70" stroke="#999" stroke-width="0.90" fill="none" stroke-linejoin="round" stroke-linecap="round"/>
<path d="M195.50,518.00 C195.58,516.67 195.58,512.50 196.00,510.00 C196.42,507.50 197.17,505.17 198.00,503.00 C198.83,500.83 199.83,498.67 201.00,497.00 C202.17,495.33 203.33,494.42 205.00,493.00 C206.67,491.58 208.92,489.92 211.00,488.50 C213.08,487.08 216.42,485.17 217.50,484.50" stroke="#6e6e6e" stroke-width="0.45" fill="none" stroke-linejoin="round" stroke-linecap="round"/>
<path d="M221.70,483.30 C223.08,482.42 227.23,479.67 230.00,478.00 C232.77,476.33 236.38,473.63 238.30,473.30 C240.22,472.97 240.67,474.80 241.50,476.00 C242.33,477.20 242.85,478.75 243.30,480.50 C243.75,482.25 244.17,485.08 244.20,486.50 C244.23,487.92 243.62,488.58 243.50,489.00" stroke="#6e6e6e" stroke-width="0.45" fill="none" stroke-linejoin="round" stroke-linecap="round"/>
<path d="M240.00,472.50 C240.42,473.17 241.75,475.08 242.50,476.50 C243.25,477.92 244.17,480.25 244.50,481.00" stroke="#6e6e6e" stroke-width="0.40" fill="none" stroke-linejoin="round" stroke-linecap="round"/>
<path d="M243,468.5 L255,462 L258.5,461.6 L265,467.2 L263.2,470.5 L259,474.8 L255.5,475.5 L249.5,473.8 Z" fill="none" stroke="#6e6e6e" stroke-width="0.5"/>
<path d="M243.50,480.50 C243.92,481.75 245.50,485.42 246.00,488.00 C246.50,490.58 246.67,493.50 246.50,496.00 C246.33,498.50 245.25,501.83 245.00,503.00" stroke="#6e6e6e" stroke-width="0.45" fill="none" stroke-linejoin="round" stroke-linecap="round"/>
<path d="M259.00,460.00 C259.75,460.42 262.17,461.50 263.50,462.50 C264.83,463.50 265.95,464.67 267.00,466.00 C268.05,467.33 269.08,468.83 269.80,470.50 C270.52,472.17 270.98,473.92 271.30,476.00 C271.62,478.08 271.78,480.67 271.70,483.00 C271.62,485.33 271.28,487.83 270.80,490.00 C270.32,492.17 269.13,495.00 268.80,496.00" stroke="#6e6e6e" stroke-width="0.55" fill="none" stroke-linejoin="round" stroke-linecap="round"/>
<path d="M245.00,490.00 C246.83,489.00 252.83,485.58 256.00,484.00 C259.17,482.42 261.67,481.58 264.00,480.50 C266.33,479.42 269.00,478.00 270.00,477.50" stroke="#6e6e6e" stroke-width="0.40" fill="none" stroke-linejoin="round" stroke-linecap="round"/>
<path d="M244.50,497.00 C246.42,496.00 252.42,492.83 256.00,491.00 C259.58,489.17 264.33,486.83 266.00,486.00" stroke="#6e6e6e" stroke-width="0.40" fill="none" stroke-linejoin="round" stroke-linecap="round"/>
<ellipse cx="254.8" cy="510" rx="11.4" ry="14.6" transform="rotate(12 254.8 510)" fill="#fff" stroke="#6e6e6e" stroke-width="0.55"/>
<ellipse cx="256.4" cy="510.6" rx="8.6" ry="11" transform="rotate(12 256.4 510.6)" fill="none" stroke="#6e6e6e" stroke-width="0.55"/>
<ellipse cx="256.6" cy="510.6" rx="7.4" ry="9.6" transform="rotate(12 256.6 510.6)" fill="none" stroke="#999" stroke-width="0.4"/>
<path d="M258.50,510.60 L263.80,510.60" stroke="#8a8a8a" stroke-width="0.45" fill="none" stroke-linejoin="round" stroke-linecap="round"/>
<path d="M258.48,510.95 L263.73,511.89" stroke="#aaa" stroke-width="0.35" fill="none" stroke-linejoin="round" stroke-linecap="round"/>
<path d="M258.14,512.07 L262.42,516.07" stroke="#8a8a8a" stroke-width="0.45" fill="none" stroke-linejoin="round" stroke-linecap="round"/>
<path d="M257.97,512.34 L261.78,517.06" stroke="#aaa" stroke-width="0.35" fill="none" stroke-linejoin="round" stroke-linecap="round"/>
<path d="M257.19,512.98 L258.82,519.44" stroke="#8a8a8a" stroke-width="0.45" fill="none" stroke-linejoin="round" stroke-linecap="round"/>
<path d="M256.93,513.06 L257.85,519.76" stroke="#aaa" stroke-width="0.35" fill="none" stroke-linejoin="round" stroke-linecap="round"/>
<path d="M256.01,512.98 L254.38,519.44" stroke="#8a8a8a" stroke-width="0.45" fill="none" stroke-linejoin="round" stroke-linecap="round"/>
<path d="M255.77,512.85 L253.44,518.96" stroke="#aaa" stroke-width="0.35" fill="none" stroke-linejoin="round" stroke-linecap="round"/>
<path d="M255.06,512.07 L250.78,516.07" stroke="#8a8a8a" stroke-width="0.45" fill="none" stroke-linejoin="round" stroke-linecap="round"/>
<path d="M254.92,511.77 L250.24,514.97" stroke="#aaa" stroke-width="0.35" fill="none" stroke-linejoin="round" stroke-linecap="round"/>
<path d="M254.70,510.60 L249.40,510.60" stroke="#8a8a8a" stroke-width="0.45" fill="none" stroke-linejoin="round" stroke-linecap="round"/>
<path d="M254.72,510.25 L249.47,509.31" stroke="#aaa" stroke-width="0.35" fill="none" stroke-linejoin="round" stroke-linecap="round"/>
<path d="M255.06,509.13 L250.78,505.13" stroke="#8a8a8a" stroke-width="0.45" fill="none" stroke-linejoin="round" stroke-linecap="round"/>
<path d="M255.23,508.86 L251.42,504.14" stroke="#aaa" stroke-width="0.35" fill="none" stroke-linejoin="round" stroke-linecap="round"/>
<path d="M256.01,508.22 L254.38,501.76" stroke="#8a8a8a" stroke-width="0.45" fill="none" stroke-linejoin="round" stroke-linecap="round"/>
<path d="M256.27,508.14 L255.35,501.44" stroke="#aaa" stroke-width="0.35" fill="none" stroke-linejoin="round" stroke-linecap="round"/>
<path d="M257.19,508.22 L258.82,501.76" stroke="#8a8a8a" stroke-width="0.45" fill="none" stroke-linejoin="round" stroke-linecap="round"/>
<path d="M257.43,508.35 L259.76,502.24" stroke="#aaa" stroke-width="0.35" fill="none" stroke-linejoin="round" stroke-linecap="round"/>
<path d="M258.14,509.13 L262.42,505.13" stroke="#8a8a8a" stroke-width="0.45" fill="none" stroke-linejoin="round" stroke-linecap="round"/>
<path d="M258.28,509.43 L262.96,506.23" stroke="#aaa" stroke-width="0.35" fill="none" stroke-linejoin="round" stroke-linecap="round"/>
<path d="M240.00,521.00 C240.08,519.17 240.17,513.00 240.50,510.00 C240.83,507.00 241.00,505.42 242.00,503.00 C243.00,500.58 244.83,497.25 246.50,495.50 C248.17,493.75 250.08,493.08 252.00,492.50 C253.92,491.92 256.08,491.67 258.00,492.00 C259.92,492.33 261.92,493.25 263.50,494.50 C265.08,495.75 266.83,498.67 267.50,499.50" stroke="#6e6e6e" stroke-width="0.55" fill="none" stroke-linejoin="round" stroke-linecap="round"/>
<path d="M242.30,519.00 C242.42,517.33 242.47,512.00 243.00,509.00 C243.53,506.00 245.08,502.33 245.50,501.00" stroke="#6e6e6e" stroke-width="0.40" fill="none" stroke-linejoin="round" stroke-linecap="round"/>
<path d="M222.50,526.50 C224.08,525.67 229.08,522.92 232.00,521.50 C234.92,520.08 238.67,518.58 240.00,518.00" stroke="#6e6e6e" stroke-width="0.45" fill="none" stroke-linejoin="round" stroke-linecap="round"/>
<path d="M195.8,518.5 L197.5,515.2 L200.5,513.8 L203.5,513.8 L205.8,515.8 L205.2,519.2 L200,520.3 L196.7,520.2 Z" fill="#fff" stroke="#6e6e6e" stroke-width="0.55"/>
<ellipse cx="145.5" cy="485" rx="2.5" ry="3.6" transform="rotate(25 145.5 485)" fill="#fff" stroke="#6e6e6e" stroke-width="0.55"/>
<path d="M184.50,531.80 L190.50,529.50" stroke="#777" stroke-width="1.00" fill="none" stroke-linejoin="round" stroke-linecap="round"/>
<path d="M134.00,506.30 L135.00,509.00 L136.70,510.30 L139.30,511.70 L140.30,513.70 L140.30,516.30 L139.30,518.30 L139.30,520.70 L138.00,521.30 L136.00,520.70 L134.00,520.30 L132.70,521.30 L130.00,522.30 L127.30,523.30 L125.30,524.30 L124.30,525.70 L123.30,527.70 L122.30,526.30 L122.00,523.70 L121.00,520.30 L120.70,517.70 L119.70,519.70 L118.70,521.70 L116.70,523.70 L115.30,525.70 L114.70,528.30 L114.00,529.70" stroke="#000" stroke-width="1.25" fill="none" stroke-linejoin="round" stroke-linecap="round"/>
<path d="M132.6,502.6 L135.2,502.2 L136.2,503.8 L135.4,506.4 L133.6,506.8 L132.8,505 Z" fill="#000"/>
<path d="M120,517.5 L121.4,517 L121.8,519.5 L120.6,520.3 Z" fill="#000"/>
<path d="M135.30,508.30 L142.00,512.30 L150.00,516.80 L157.00,520.80 L163.00,525.20" stroke="#000" stroke-width="3.00" fill="none" stroke-linejoin="round" stroke-linecap="round"/>
<path d="M137.50,509.50 L142.00,512.20 L150.00,516.70 L156.00,520.10" stroke="#fff" stroke-width="0.55" fill="none" stroke-linejoin="round" stroke-linecap="round"/>
<path d="M163.8,527 L166.9,525.8 L169.8,526.6 L170.6,528.6 L169.4,530.6 L169.3,533.4 L167.8,536.4 L165.2,538.4 L162,540 L158.8,540.8 L157.4,539.6 L158.8,537.2 L161.2,535 L161.9,530.8 L163.2,528.8 Z" fill="#000"/>
<path d="M164.8,528.5 L167.3,528.2 L167,529.6 L165,529.8 Z" fill="#fff"/>
<path d="M167.50,537.40 L169.80,536.80 L173.30,537.10 L176.30,538.60 L178.60,539.80 L180.30,542.10" stroke="#000" stroke-width="1.10" fill="none" stroke-linejoin="round" stroke-linecap="round"/>
<path d="M164.20,540.50 L164.60,545.00 L164.20,550.00 L164.50,552.50" stroke="#000" stroke-width="1.60" fill="none" stroke-linejoin="round" stroke-linecap="round"/>
<path d="M168.50,543.50 L170.80,547.00 L171.50,551.00 L171.80,555.00 L170.50,560.00 L169.50,562.00" stroke="#000" stroke-width="0.90" fill="none" stroke-linejoin="round" stroke-linecap="round"/>
<text x="436.00" y="539.90" textLength="31.20" lengthAdjust="spacingAndGlyphs" font-size="8.10" fill="#222" stroke="#222" stroke-width="0.12">2060615</text>
<text x="436.50" y="550.60" textLength="29.30" lengthAdjust="spacingAndGlyphs" font-size="8.10" fill="#222" stroke="#222" stroke-width="0.12">26-2019</text>
<text x="445.20" y="561.20" textLength="9.30" lengthAdjust="spacingAndGlyphs" font-size="8.10" fill="#222" stroke="#222" stroke-width="0.12">3A</text>
<text x="428.70" y="571.70" textLength="46.70" lengthAdjust="spacingAndGlyphs" font-size="8.10" fill="#222" stroke="#222" stroke-width="0.12">C0298943-01</text>
<text x="230.00" y="581.60" textLength="165.80" lengthAdjust="spacingAndGlyphs" font-size="7.20" fill="#2a2a2a" stroke="#2a2a2a" stroke-width="0.08">&#169; Copyright, 2019. Jaguar Land Rover Limited.</text>
<path d="M472.60,576.20 L474.40,575.20" stroke="#bbb" stroke-width="0.50" fill="none" stroke-linejoin="round" stroke-linecap="round"/>
</svg>
</body></html>
